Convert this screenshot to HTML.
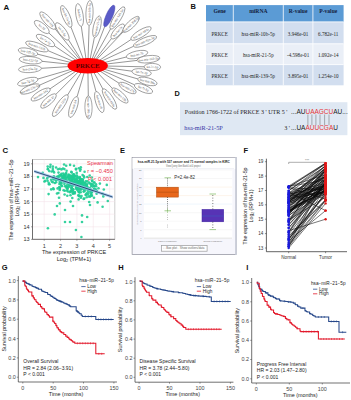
<!DOCTYPE html>
<html><head><meta charset="utf-8"><style>
html,body{margin:0;padding:0;background:#fff;width:351px;height:400px;overflow:hidden}
svg{display:block}
</style></head><body>
<svg width="351" height="400" viewBox="0 0 351 400">
<rect width="351" height="400" fill="#fff"/>
<g>
<line x1="88.0" y1="61.7" x2="89.1" y2="25.5" stroke="#505050" stroke-width="0.6"/>
<line x1="86.4" y1="61.8" x2="81.3" y2="26.4" stroke="#505050" stroke-width="0.6"/>
<line x1="84.5" y1="62.0" x2="71.0" y2="27.2" stroke="#505050" stroke-width="0.6"/>
<line x1="89.6" y1="61.8" x2="94.4" y2="37.4" stroke="#505050" stroke-width="0.6"/>
<line x1="90.9" y1="62.0" x2="104.6" y2="26.8" stroke="#505050" stroke-width="0.6"/>
<line x1="91.9" y1="62.3" x2="110.5" y2="29.0" stroke="#505050" stroke-width="0.6"/>
<line x1="93.0" y1="62.7" x2="111.4" y2="38.6" stroke="#505050" stroke-width="0.6"/>
<line x1="93.5" y1="62.9" x2="123.0" y2="32.0" stroke="#505050" stroke-width="0.6"/>
<line x1="94.5" y1="63.6" x2="130.9" y2="39.6" stroke="#505050" stroke-width="0.6"/>
<line x1="95.1" y1="64.1" x2="133.5" y2="46.3" stroke="#505050" stroke-width="0.6"/>
<line x1="95.5" y1="64.8" x2="126.3" y2="57.0" stroke="#505050" stroke-width="0.6"/>
<line x1="95.7" y1="65.3" x2="137.1" y2="60.4" stroke="#505050" stroke-width="0.6"/>
<line x1="95.7" y1="65.8" x2="144.2" y2="66.8" stroke="#505050" stroke-width="0.6"/>
<line x1="95.6" y1="66.2" x2="131.9" y2="71.2" stroke="#505050" stroke-width="0.6"/>
<line x1="95.4" y1="66.7" x2="137.7" y2="78.9" stroke="#505050" stroke-width="0.6"/>
<line x1="95.1" y1="67.2" x2="134.5" y2="84.8" stroke="#505050" stroke-width="0.6"/>
<line x1="94.7" y1="67.7" x2="119.0" y2="83.2" stroke="#505050" stroke-width="0.6"/>
<line x1="93.6" y1="68.4" x2="112.3" y2="88.4" stroke="#505050" stroke-width="0.6"/>
<line x1="92.1" y1="69.0" x2="102.9" y2="89.0" stroke="#505050" stroke-width="0.6"/>
<line x1="90.1" y1="69.5" x2="96.0" y2="91.5" stroke="#505050" stroke-width="0.6"/>
<line x1="87.9" y1="69.7" x2="88.3" y2="95.9" stroke="#505050" stroke-width="0.6"/>
<line x1="85.1" y1="69.5" x2="77.1" y2="96.6" stroke="#505050" stroke-width="0.6"/>
<line x1="83.2" y1="69.0" x2="67.7" y2="94.9" stroke="#505050" stroke-width="0.6"/>
<line x1="81.8" y1="68.4" x2="55.9" y2="94.3" stroke="#505050" stroke-width="0.6"/>
<line x1="80.9" y1="67.8" x2="50.1" y2="88.8" stroke="#505050" stroke-width="0.6"/>
<line x1="80.3" y1="67.2" x2="39.7" y2="85.1" stroke="#505050" stroke-width="0.6"/>
<line x1="80.0" y1="66.7" x2="37.9" y2="79.0" stroke="#505050" stroke-width="0.6"/>
<line x1="79.7" y1="65.9" x2="41.5" y2="68.3" stroke="#505050" stroke-width="0.6"/>
<line x1="79.7" y1="65.3" x2="42.0" y2="61.3" stroke="#505050" stroke-width="0.6"/>
<line x1="79.9" y1="64.8" x2="37.7" y2="54.2" stroke="#505050" stroke-width="0.6"/>
<line x1="80.2" y1="64.3" x2="48.1" y2="50.7" stroke="#505050" stroke-width="0.6"/>
<line x1="80.8" y1="63.6" x2="54.5" y2="45.9" stroke="#505050" stroke-width="0.6"/>
<line x1="81.6" y1="63.1" x2="48.9" y2="33.0" stroke="#505050" stroke-width="0.6"/>
<line x1="82.4" y1="62.7" x2="55.2" y2="29.0" stroke="#505050" stroke-width="0.6"/>
<line x1="82.9" y1="62.5" x2="68.5" y2="39.8" stroke="#505050" stroke-width="0.6"/>
<ellipse cx="89.5" cy="13" rx="12.5" ry="3.6" transform="rotate(-88.0 89.5 13)" fill="#fff" stroke="#606060" stroke-width="0.55"/>
<text x="89.5" y="14.1" transform="rotate(-88.0 89.5 13)" text-anchor="middle" style="font-family:'Liberation Serif',serif;font-size:3.3px" fill="#4a4a4a">hsa-mir-10b-5p</text>
<ellipse cx="79.5" cy="15" rx="11.5" ry="3.6" transform="rotate(-99.2 79.5 15)" fill="#fff" stroke="#606060" stroke-width="0.55"/>
<text x="79.5" y="16.1" transform="rotate(80.8 79.5 15)" text-anchor="middle" style="font-family:'Liberation Serif',serif;font-size:3.3px" fill="#4a4a4a">hsa-let-7i</text>
<ellipse cx="66.3" cy="16.4" rx="11.75" ry="3.6" transform="rotate(-113.5 66.3 16.4)" fill="#fff" stroke="#606060" stroke-width="0.55"/>
<text x="66.3" y="17.5" transform="rotate(66.5 66.3 16.4)" text-anchor="middle" style="font-family:'Liberation Serif',serif;font-size:3.3px" fill="#4a4a4a">hsa-let-7a-5p</text>
<ellipse cx="97" cy="26.7" rx="11.0" ry="3.6" transform="rotate(-76.6 97 26.7)" fill="#fff" stroke="#606060" stroke-width="0.55"/>
<text x="97" y="27.8" transform="rotate(-76.6 97 26.7)" text-anchor="middle" style="font-family:'Liberation Serif',serif;font-size:3.3px" fill="#4a4a4a">hsa-mir-21-5p</text>
<ellipse cx="109.3" cy="16" rx="11.75" ry="3.3" transform="rotate(-66.5 109.3 16)" fill="#5a5bc8" stroke="#4446b0" stroke-width="0.5"/>
<ellipse cx="117.4" cy="18" rx="13.0" ry="3.6" transform="rotate(-58.1 117.4 18)" fill="#fff" stroke="#606060" stroke-width="0.55"/>
<text x="117.4" y="19.1" transform="rotate(-58.1 117.4 18)" text-anchor="middle" style="font-family:'Liberation Serif',serif;font-size:3.3px" fill="#4a4a4a">hsa-mir-145-5p</text>
<ellipse cx="117.7" cy="31.5" rx="9.5" ry="3.6" transform="rotate(-48.7 117.7 31.5)" fill="#fff" stroke="#606060" stroke-width="0.55"/>
<text x="117.7" y="32.6" transform="rotate(-48.7 117.7 31.5)" text-anchor="middle" style="font-family:'Liberation Serif',serif;font-size:3.3px" fill="#4a4a4a">hsa-let-7e</text>
<ellipse cx="131" cy="24.4" rx="11.0" ry="3.6" transform="rotate(-43.6 131 24.4)" fill="#fff" stroke="#606060" stroke-width="0.55"/>
<text x="131" y="25.5" transform="rotate(-43.6 131 24.4)" text-anchor="middle" style="font-family:'Liberation Serif',serif;font-size:3.3px" fill="#4a4a4a">hsa-mir-30d-5p</text>
<ellipse cx="141" cy="33.5" rx="11.75" ry="3.6" transform="rotate(-31.1 141 33.5)" fill="#fff" stroke="#606060" stroke-width="0.55"/>
<text x="141" y="34.6" transform="rotate(-31.1 141 33.5)" text-anchor="middle" style="font-family:'Liberation Serif',serif;font-size:3.3px" fill="#4a4a4a">hsa-mir-181a</text>
<ellipse cx="145" cy="41.4" rx="12.5" ry="3.6" transform="rotate(-23.0 145 41.4)" fill="#fff" stroke="#606060" stroke-width="0.55"/>
<text x="145" y="42.5" transform="rotate(-23.0 145 41.4)" text-anchor="middle" style="font-family:'Liberation Serif',serif;font-size:3.3px" fill="#4a4a4a">hsa-mir-92a-3p</text>
<ellipse cx="137" cy="54.6" rx="11.0" ry="3.6" transform="rotate(-12.7 137 54.6)" fill="#fff" stroke="#606060" stroke-width="0.55"/>
<text x="137" y="55.7" transform="rotate(-12.7 137 54.6)" text-anchor="middle" style="font-family:'Liberation Serif',serif;font-size:3.3px" fill="#4a4a4a">hsa-let-7b</text>
<ellipse cx="148.5" cy="59.2" rx="11.5" ry="3.6" transform="rotate(-6.1 148.5 59.2)" fill="#fff" stroke="#606060" stroke-width="0.55"/>
<text x="148.5" y="60.300000000000004" transform="rotate(-6.1 148.5 59.2)" text-anchor="middle" style="font-family:'Liberation Serif',serif;font-size:3.3px" fill="#4a4a4a">hsa-mir-143-3p</text>
<ellipse cx="152.4" cy="67" rx="8.25" ry="3.6" transform="rotate(1.2 152.4 67)" fill="#fff" stroke="#606060" stroke-width="0.55"/>
<text x="152.4" y="68.1" transform="rotate(1.2 152.4 67)" text-anchor="middle" style="font-family:'Liberation Serif',serif;font-size:3.3px" fill="#4a4a4a">let-7c-5p</text>
<ellipse cx="141.6" cy="72.4" rx="9.75" ry="3.6" transform="rotate(7.1 141.6 72.4)" fill="#fff" stroke="#606060" stroke-width="0.55"/>
<text x="141.6" y="73.5" transform="rotate(7.1 141.6 72.4)" text-anchor="middle" style="font-family:'Liberation Serif',serif;font-size:3.3px" fill="#4a4a4a">let-7a-3p</text>
<ellipse cx="147.4" cy="81.4" rx="10.0" ry="3.6" transform="rotate(14.7 147.4 81.4)" fill="#fff" stroke="#606060" stroke-width="0.55"/>
<text x="147.4" y="82.5" transform="rotate(14.7 147.4 81.4)" text-anchor="middle" style="font-family:'Liberation Serif',serif;font-size:3.3px" fill="#4a4a4a">hsa-mir-99a</text>
<ellipse cx="143.5" cy="88.5" rx="9.75" ry="3.6" transform="rotate(22.2 143.5 88.5)" fill="#fff" stroke="#606060" stroke-width="0.55"/>
<text x="143.5" y="89.6" transform="rotate(22.2 143.5 88.5)" text-anchor="middle" style="font-family:'Liberation Serif',serif;font-size:3.3px" fill="#4a4a4a">let-7f-5p</text>
<ellipse cx="127.5" cy="88" rx="9.75" ry="3.6" transform="rotate(29.3 127.5 88)" fill="#fff" stroke="#606060" stroke-width="0.55"/>
<text x="127.5" y="89.1" transform="rotate(29.3 127.5 88)" text-anchor="middle" style="font-family:'Liberation Serif',serif;font-size:3.3px" fill="#4a4a4a">hsa-mir-27b</text>
<ellipse cx="120" cy="95.5" rx="10.5" ry="3.6" transform="rotate(42.7 120 95.5)" fill="#fff" stroke="#606060" stroke-width="0.55"/>
<text x="120" y="96.6" transform="rotate(42.7 120 95.5)" text-anchor="middle" style="font-family:'Liberation Serif',serif;font-size:3.3px" fill="#4a4a4a">hsa-mir-15b</text>
<ellipse cx="109.5" cy="99" rx="12.0" ry="3.6" transform="rotate(56.8 109.5 99)" fill="#fff" stroke="#606060" stroke-width="0.55"/>
<text x="109.5" y="100.1" transform="rotate(56.8 109.5 99)" text-anchor="middle" style="font-family:'Liberation Serif',serif;font-size:3.3px" fill="#4a4a4a">hsa-mir-103a</text>
<ellipse cx="99.3" cy="102" rx="11.0" ry="3.6" transform="rotate(72.3 99.3 102)" fill="#fff" stroke="#606060" stroke-width="0.55"/>
<text x="99.3" y="103.1" transform="rotate(72.3 99.3 102)" text-anchor="middle" style="font-family:'Liberation Serif',serif;font-size:3.3px" fill="#4a4a4a">hsa-mir-16</text>
<ellipse cx="88.5" cy="107.4" rx="11.5" ry="3.6" transform="rotate(88.9 88.5 107.4)" fill="#fff" stroke="#606060" stroke-width="0.55"/>
<text x="88.5" y="108.5" transform="rotate(88.9 88.5 107.4)" text-anchor="middle" style="font-family:'Liberation Serif',serif;font-size:3.3px" fill="#4a4a4a">hsa-mir-101-3p</text>
<ellipse cx="73.5" cy="107" rx="11.0" ry="3.6" transform="rotate(109.0 73.5 107)" fill="#fff" stroke="#606060" stroke-width="0.55"/>
<text x="73.5" y="108.1" transform="rotate(-71.0 73.5 107)" text-anchor="middle" style="font-family:'Liberation Serif',serif;font-size:3.3px" fill="#4a4a4a">hsa-mir-24</text>
<ellipse cx="60.3" cy="105.6" rx="13.0" ry="3.6" transform="rotate(124.5 60.3 105.6)" fill="#fff" stroke="#606060" stroke-width="0.55"/>
<text x="60.3" y="106.69999999999999" transform="rotate(-55.5 60.3 105.6)" text-anchor="middle" style="font-family:'Liberation Serif',serif;font-size:3.3px" fill="#4a4a4a">hsa-mir-125a</text>
<ellipse cx="48.5" cy="101" rx="10.0" ry="3.6" transform="rotate(138.0 48.5 101)" fill="#fff" stroke="#606060" stroke-width="0.55"/>
<text x="48.5" y="102.1" transform="rotate(-42.0 48.5 101)" text-anchor="middle" style="font-family:'Liberation Serif',serif;font-size:3.3px" fill="#4a4a4a">hsa-mir-21</text>
<ellipse cx="40.7" cy="94.5" rx="11.0" ry="3.6" transform="rotate(148.5 40.7 94.5)" fill="#fff" stroke="#606060" stroke-width="0.55"/>
<text x="40.7" y="95.6" transform="rotate(-31.5 40.7 94.5)" text-anchor="middle" style="font-family:'Liberation Serif',serif;font-size:3.3px" fill="#4a4a4a">hsa-mir-142</text>
<ellipse cx="30" cy="89" rx="10.5" ry="3.6" transform="rotate(158.0 30 89)" fill="#fff" stroke="#606060" stroke-width="0.55"/>
<text x="30" y="90.1" transform="rotate(-22.0 30 89)" text-anchor="middle" style="font-family:'Liberation Serif',serif;font-size:3.3px" fill="#4a4a4a">hsa-mir-23a-5p</text>
<ellipse cx="27.8" cy="81.7" rx="10.5" ry="3.6" transform="rotate(165.0 27.8 81.7)" fill="#fff" stroke="#606060" stroke-width="0.55"/>
<text x="27.8" y="82.8" transform="rotate(-15.0 27.8 81.7)" text-anchor="middle" style="font-family:'Liberation Serif',serif;font-size:3.3px" fill="#4a4a4a">hsa-7g-5p</text>
<ellipse cx="30" cy="69" rx="11.5" ry="3.6" transform="rotate(176.7 30 69)" fill="#fff" stroke="#606060" stroke-width="0.55"/>
<text x="30" y="70.1" transform="rotate(-3.3 30 69)" text-anchor="middle" style="font-family:'Liberation Serif',serif;font-size:3.3px" fill="#4a4a4a">hsa-23a-5p</text>
<ellipse cx="30.6" cy="60.2" rx="11.5" ry="3.6" transform="rotate(-174.5 30.6 60.2)" fill="#fff" stroke="#606060" stroke-width="0.55"/>
<text x="30.6" y="61.300000000000004" transform="rotate(5.5 30.6 60.2)" text-anchor="middle" style="font-family:'Liberation Serif',serif;font-size:3.3px" fill="#4a4a4a">hsa-222-5p</text>
<ellipse cx="28" cy="52" rx="10.0" ry="3.6" transform="rotate(-167.1 28 52)" fill="#fff" stroke="#606060" stroke-width="0.55"/>
<text x="28" y="53.1" transform="rotate(12.9 28 52)" text-anchor="middle" style="font-family:'Liberation Serif',serif;font-size:3.3px" fill="#4a4a4a">hsa-139-5p</text>
<ellipse cx="36.9" cy="46.5" rx="12.0" ry="3.6" transform="rotate(-159.3 36.9 46.5)" fill="#fff" stroke="#606060" stroke-width="0.55"/>
<text x="36.9" y="47.6" transform="rotate(20.7 36.9 46.5)" text-anchor="middle" style="font-family:'Liberation Serif',serif;font-size:3.3px" fill="#4a4a4a">hsa-mir-181b</text>
<ellipse cx="45.5" cy="40.5" rx="10.5" ry="3.6" transform="rotate(-149.2 45.5 40.5)" fill="#fff" stroke="#606060" stroke-width="0.55"/>
<text x="45.5" y="41.6" transform="rotate(30.8 45.5 40.5)" text-anchor="middle" style="font-family:'Liberation Serif',serif;font-size:3.3px" fill="#4a4a4a">let-7a-3p</text>
<ellipse cx="41.8" cy="27" rx="9.25" ry="3.6" transform="rotate(-139.9 41.8 27)" fill="#fff" stroke="#606060" stroke-width="0.55"/>
<text x="41.8" y="28.1" transform="rotate(40.1 41.8 27)" text-anchor="middle" style="font-family:'Liberation Serif',serif;font-size:3.3px" fill="#4a4a4a">let-7d</text>
<ellipse cx="47.7" cy="20.6" rx="11.25" ry="3.6" transform="rotate(-131.6 47.7 20.6)" fill="#fff" stroke="#606060" stroke-width="0.55"/>
<text x="47.7" y="21.700000000000003" transform="rotate(48.4 47.7 20.6)" text-anchor="middle" style="font-family:'Liberation Serif',serif;font-size:3.3px" fill="#4a4a4a">hsa-mir-126</text>
<ellipse cx="62.3" cy="31.4" rx="10.5" ry="3.6" transform="rotate(-126.5 62.3 31.4)" fill="#fff" stroke="#606060" stroke-width="0.55"/>
<text x="62.3" y="32.5" transform="rotate(53.5 62.3 31.4)" text-anchor="middle" style="font-family:'Liberation Serif',serif;font-size:3.3px" fill="#4a4a4a">let-7i-5p</text>
<ellipse cx="87.7" cy="65.7" rx="20.2" ry="7.8" fill="#f00" />
<text x="87.7" y="67.9" text-anchor="middle" style="font-family:'Liberation Serif',serif;font-size:6.8px;font-weight:bold" fill="#5a0000">PRKCE</text>
</g>
<text x="3.4" y="10" style="font-family:'Liberation Sans',sans-serif;font-weight:bold;font-size:8px" fill="#111">A</text>
<text x="190.5" y="9.3" style="font-family:'Liberation Sans',sans-serif;font-weight:bold;font-size:7.5px" fill="#111">B</text>
<rect x="206" y="5.1" width="137.60000000000002" height="16.799999999999997" fill="#5b9bd5"/>
<rect x="206" y="21.9" width="137.60000000000002" height="21.9" fill="#d2deef"/>
<rect x="206" y="43.8" width="137.60000000000002" height="20.799999999999997" fill="#eaeff7"/>
<rect x="206" y="64.6" width="137.60000000000002" height="20.700000000000003" fill="#d2deef"/>
<line x1="233.3" y1="5.1" x2="233.3" y2="85.3" stroke="#fff" stroke-width="0.8"/>
<line x1="283.3" y1="5.1" x2="283.3" y2="85.3" stroke="#fff" stroke-width="0.8"/>
<line x1="312.9" y1="5.1" x2="312.9" y2="85.3" stroke="#fff" stroke-width="0.8"/>
<line x1="206" y1="21.9" x2="343.6" y2="21.9" stroke="#fff" stroke-width="0.8"/>
<line x1="206" y1="43.8" x2="343.6" y2="43.8" stroke="#fff" stroke-width="0.8"/>
<line x1="206" y1="64.6" x2="343.6" y2="64.6" stroke="#fff" stroke-width="0.8"/>
<text x="219.65" y="12.9" text-anchor="middle" style="font-family:'Liberation Serif',serif;font-weight:bold;font-size:5.6px" fill="#14213d">Gene</text>
<text x="258.3" y="12.9" text-anchor="middle" style="font-family:'Liberation Serif',serif;font-weight:bold;font-size:5.6px" fill="#14213d">miRNA</text>
<text x="298.1" y="12.9" text-anchor="middle" style="font-family:'Liberation Serif',serif;font-weight:bold;font-size:5.6px" fill="#14213d">R-value</text>
<text x="328.25" y="12.9" text-anchor="middle" style="font-family:'Liberation Serif',serif;font-weight:bold;font-size:5.6px" fill="#14213d">P-value</text>
<text x="219.65" y="36.1" text-anchor="middle" style="font-family:'Liberation Serif',serif;font-size:5.1px" fill="#1e1e1e">PRKCE</text>
<text x="258.3" y="36.1" text-anchor="middle" style="font-family:'Liberation Serif',serif;font-size:5.1px" fill="#1e1e1e">hsa-miR-10b-5p</text>
<text x="298.1" y="36.1" text-anchor="middle" style="font-family:'Liberation Serif',serif;font-size:5.1px" fill="#1e1e1e">3.946e-01</text>
<text x="328.25" y="36.1" text-anchor="middle" style="font-family:'Liberation Serif',serif;font-size:5.1px" fill="#1e1e1e">6.782e-11</text>
<text x="219.65" y="56.8" text-anchor="middle" style="font-family:'Liberation Serif',serif;font-size:5.1px" fill="#1e1e1e">PRKCE</text>
<text x="258.3" y="56.8" text-anchor="middle" style="font-family:'Liberation Serif',serif;font-size:5.1px" fill="#1e1e1e">hsa-miR-21-5p</text>
<text x="298.1" y="56.8" text-anchor="middle" style="font-family:'Liberation Serif',serif;font-size:5.1px" fill="#1e1e1e">-4.598e-01</text>
<text x="328.25" y="56.8" text-anchor="middle" style="font-family:'Liberation Serif',serif;font-size:5.1px" fill="#1e1e1e">1.092e-14</text>
<text x="219.65" y="77.5" text-anchor="middle" style="font-family:'Liberation Serif',serif;font-size:5.1px" fill="#1e1e1e">PRKCE</text>
<text x="258.3" y="77.5" text-anchor="middle" style="font-family:'Liberation Serif',serif;font-size:5.1px" fill="#1e1e1e">hsa-miR-139-5p</text>
<text x="298.1" y="77.5" text-anchor="middle" style="font-family:'Liberation Serif',serif;font-size:5.1px" fill="#1e1e1e">3.895e-01</text>
<text x="328.25" y="77.5" text-anchor="middle" style="font-family:'Liberation Serif',serif;font-size:5.1px" fill="#1e1e1e">1.254e-10</text>
<text x="174.5" y="96.3" style="font-family:'Liberation Sans',sans-serif;font-weight:bold;font-size:7.3px" fill="#111">D</text>
<rect x="180" y="102.2" width="167.4" height="33" fill="#dfe8f3"/>
<text x="184.8" y="113.5" textLength="102.5" lengthAdjust="spacingAndGlyphs" style="font-family:'Liberation Serif',serif;font-size:6.3px" fill="#1a1a1a">Position 1766-1722 of PRKCE 3 ' UTR 5 '</text>
<text x="291" y="113.5" style="font-family:'Liberation Sans',sans-serif;font-size:6.5px" fill="#1a1a1a">...AU<tspan fill="#e53535">UAAGCU</tspan>AU...</text>
<text x="184.3" y="130.2" style="font-family:'Liberation Serif',serif;font-size:6.3px" fill="#3535a5">hsa-miR-21-5P</text>
<text x="284.2" y="130" style="font-family:'Liberation Serif',serif;font-size:6.2px" fill="#222">3 '</text>
<text x="291" y="130.2" style="font-family:'Liberation Sans',sans-serif;font-size:6.5px" fill="#1a1a1a">...UA<tspan fill="#e53535">AUUCGA</tspan>U</text>
<line x1="307.9" y1="114.5" x2="307.9" y2="125.3" stroke="#555" stroke-width="0.45"/>
<line x1="311.9" y1="114.5" x2="311.9" y2="125.3" stroke="#555" stroke-width="0.45"/>
<line x1="315.9" y1="114.5" x2="315.9" y2="125.3" stroke="#555" stroke-width="0.45"/>
<line x1="320" y1="114.5" x2="320" y2="125.3" stroke="#555" stroke-width="0.45"/>
<line x1="324.6" y1="114.5" x2="324.6" y2="125.3" stroke="#555" stroke-width="0.45"/>
<line x1="329" y1="114.5" x2="329" y2="125.3" stroke="#555" stroke-width="0.45"/>
<text x="2.6" y="153.2" style="font-family:'Liberation Sans',sans-serif;font-weight:bold;font-size:7.8px" fill="#111">C</text>
<rect x="32.5" y="159.6" width="82.4" height="79.70000000000002" fill="#fff" stroke="#9a9a9a" stroke-width="0.5"/>
<line x1="32.5" y1="239.4" x2="114.9" y2="239.4" stroke="#f3dfe6" stroke-width="0.5"/>
<line x1="32.5" y1="226.8" x2="114.9" y2="226.8" stroke="#f3dfe6" stroke-width="0.5"/>
<line x1="32.5" y1="214.20000000000002" x2="114.9" y2="214.20000000000002" stroke="#f3dfe6" stroke-width="0.5"/>
<line x1="32.5" y1="201.60000000000002" x2="114.9" y2="201.60000000000002" stroke="#f3dfe6" stroke-width="0.5"/>
<line x1="32.5" y1="189.0" x2="114.9" y2="189.0" stroke="#f3dfe6" stroke-width="0.5"/>
<line x1="32.5" y1="176.4" x2="114.9" y2="176.4" stroke="#f3dfe6" stroke-width="0.5"/>
<line x1="32.5" y1="163.8" x2="114.9" y2="163.8" stroke="#f3dfe6" stroke-width="0.5"/>
<line x1="44.2" y1="159.6" x2="44.2" y2="239.3" stroke="#f3dfe6" stroke-width="0.5"/>
<line x1="60.550000000000004" y1="159.6" x2="60.550000000000004" y2="239.3" stroke="#f3dfe6" stroke-width="0.5"/>
<line x1="76.9" y1="159.6" x2="76.9" y2="239.3" stroke="#f3dfe6" stroke-width="0.5"/>
<line x1="93.25" y1="159.6" x2="93.25" y2="239.3" stroke="#f3dfe6" stroke-width="0.5"/>
<line x1="109.60000000000001" y1="159.6" x2="109.60000000000001" y2="239.3" stroke="#f3dfe6" stroke-width="0.5"/>
<circle cx="69.5" cy="178.9" r="1.3" fill="#1fcc94" fill-opacity="0.9"/>
<circle cx="69.9" cy="184.7" r="1.3" fill="#1fcc94" fill-opacity="0.9"/>
<circle cx="61.0" cy="181.5" r="1.3" fill="#1fcc94" fill-opacity="0.9"/>
<circle cx="87.0" cy="184.3" r="1.3" fill="#1fcc94" fill-opacity="0.9"/>
<circle cx="86.0" cy="185.3" r="1.3" fill="#1fcc94" fill-opacity="0.9"/>
<circle cx="77.8" cy="183.4" r="1.3" fill="#1fcc94" fill-opacity="0.9"/>
<circle cx="51.6" cy="171.5" r="1.3" fill="#1fcc94" fill-opacity="0.9"/>
<circle cx="79.3" cy="181.7" r="1.3" fill="#1fcc94" fill-opacity="0.9"/>
<circle cx="51.2" cy="189.4" r="1.3" fill="#1fcc94" fill-opacity="0.9"/>
<circle cx="61.5" cy="183.4" r="1.3" fill="#1fcc94" fill-opacity="0.9"/>
<circle cx="76.7" cy="184.7" r="1.3" fill="#1fcc94" fill-opacity="0.9"/>
<circle cx="79.5" cy="189.6" r="1.3" fill="#1fcc94" fill-opacity="0.9"/>
<circle cx="76.7" cy="181.7" r="1.3" fill="#1fcc94" fill-opacity="0.9"/>
<circle cx="64.4" cy="169.1" r="1.3" fill="#1fcc94" fill-opacity="0.9"/>
<circle cx="79.9" cy="177.0" r="1.3" fill="#1fcc94" fill-opacity="0.9"/>
<circle cx="64.9" cy="186.3" r="1.3" fill="#1fcc94" fill-opacity="0.9"/>
<circle cx="68.4" cy="182.9" r="1.3" fill="#1fcc94" fill-opacity="0.9"/>
<circle cx="80.9" cy="183.8" r="1.3" fill="#1fcc94" fill-opacity="0.9"/>
<circle cx="67.1" cy="188.4" r="1.3" fill="#1fcc94" fill-opacity="0.9"/>
<circle cx="66.2" cy="173.0" r="1.3" fill="#1fcc94" fill-opacity="0.9"/>
<circle cx="62.5" cy="178.8" r="1.3" fill="#1fcc94" fill-opacity="0.9"/>
<circle cx="78.3" cy="195.2" r="1.3" fill="#1fcc94" fill-opacity="0.9"/>
<circle cx="73.4" cy="174.4" r="1.3" fill="#1fcc94" fill-opacity="0.9"/>
<circle cx="47.1" cy="178.4" r="1.3" fill="#1fcc94" fill-opacity="0.9"/>
<circle cx="71.5" cy="188.6" r="1.3" fill="#1fcc94" fill-opacity="0.9"/>
<circle cx="79.2" cy="185.5" r="1.3" fill="#1fcc94" fill-opacity="0.9"/>
<circle cx="54.1" cy="172.4" r="1.3" fill="#1fcc94" fill-opacity="0.9"/>
<circle cx="81.3" cy="179.1" r="1.3" fill="#1fcc94" fill-opacity="0.9"/>
<circle cx="91.2" cy="185.9" r="1.3" fill="#1fcc94" fill-opacity="0.9"/>
<circle cx="74.3" cy="192.8" r="1.3" fill="#1fcc94" fill-opacity="0.9"/>
<circle cx="80.7" cy="189.7" r="1.3" fill="#1fcc94" fill-opacity="0.9"/>
<circle cx="67.0" cy="190.5" r="1.3" fill="#1fcc94" fill-opacity="0.9"/>
<circle cx="60.5" cy="183.6" r="1.3" fill="#1fcc94" fill-opacity="0.9"/>
<circle cx="89.2" cy="202.0" r="1.3" fill="#1fcc94" fill-opacity="0.9"/>
<circle cx="54.2" cy="176.5" r="1.3" fill="#1fcc94" fill-opacity="0.9"/>
<circle cx="91.2" cy="184.4" r="1.3" fill="#1fcc94" fill-opacity="0.9"/>
<circle cx="48.6" cy="194.1" r="1.3" fill="#1fcc94" fill-opacity="0.9"/>
<circle cx="77.4" cy="189.7" r="1.3" fill="#1fcc94" fill-opacity="0.9"/>
<circle cx="58.5" cy="172.6" r="1.3" fill="#1fcc94" fill-opacity="0.9"/>
<circle cx="86.9" cy="186.1" r="1.3" fill="#1fcc94" fill-opacity="0.9"/>
<circle cx="75.9" cy="181.2" r="1.3" fill="#1fcc94" fill-opacity="0.9"/>
<circle cx="93.1" cy="184.7" r="1.3" fill="#1fcc94" fill-opacity="0.9"/>
<circle cx="79.4" cy="181.4" r="1.3" fill="#1fcc94" fill-opacity="0.9"/>
<circle cx="52.8" cy="168.9" r="1.3" fill="#1fcc94" fill-opacity="0.9"/>
<circle cx="85.0" cy="183.0" r="1.3" fill="#1fcc94" fill-opacity="0.9"/>
<circle cx="47.6" cy="180.7" r="1.3" fill="#1fcc94" fill-opacity="0.9"/>
<circle cx="83.6" cy="198.9" r="1.3" fill="#1fcc94" fill-opacity="0.9"/>
<circle cx="70.5" cy="175.6" r="1.3" fill="#1fcc94" fill-opacity="0.9"/>
<circle cx="56.1" cy="167.5" r="1.3" fill="#1fcc94" fill-opacity="0.9"/>
<circle cx="79.9" cy="186.3" r="1.3" fill="#1fcc94" fill-opacity="0.9"/>
<circle cx="77.0" cy="180.0" r="1.3" fill="#1fcc94" fill-opacity="0.9"/>
<circle cx="74.3" cy="175.8" r="1.3" fill="#1fcc94" fill-opacity="0.9"/>
<circle cx="64.4" cy="183.9" r="1.3" fill="#1fcc94" fill-opacity="0.9"/>
<circle cx="86.1" cy="186.8" r="1.3" fill="#1fcc94" fill-opacity="0.9"/>
<circle cx="61.6" cy="173.7" r="1.3" fill="#1fcc94" fill-opacity="0.9"/>
<circle cx="91.5" cy="191.6" r="1.3" fill="#1fcc94" fill-opacity="0.9"/>
<circle cx="55.2" cy="179.4" r="1.3" fill="#1fcc94" fill-opacity="0.9"/>
<circle cx="70.9" cy="184.9" r="1.3" fill="#1fcc94" fill-opacity="0.9"/>
<circle cx="90.7" cy="195.4" r="1.3" fill="#1fcc94" fill-opacity="0.9"/>
<circle cx="88.9" cy="196.6" r="1.3" fill="#1fcc94" fill-opacity="0.9"/>
<circle cx="62.8" cy="176.2" r="1.3" fill="#1fcc94" fill-opacity="0.9"/>
<circle cx="87.2" cy="181.4" r="1.3" fill="#1fcc94" fill-opacity="0.9"/>
<circle cx="77.2" cy="183.6" r="1.3" fill="#1fcc94" fill-opacity="0.9"/>
<circle cx="74.8" cy="179.9" r="1.3" fill="#1fcc94" fill-opacity="0.9"/>
<circle cx="70.6" cy="180.8" r="1.3" fill="#1fcc94" fill-opacity="0.9"/>
<circle cx="80.1" cy="185.4" r="1.3" fill="#1fcc94" fill-opacity="0.9"/>
<circle cx="82.6" cy="182.1" r="1.3" fill="#1fcc94" fill-opacity="0.9"/>
<circle cx="98.5" cy="188.2" r="1.3" fill="#1fcc94" fill-opacity="0.9"/>
<circle cx="67.4" cy="184.4" r="1.3" fill="#1fcc94" fill-opacity="0.9"/>
<circle cx="72.6" cy="176.9" r="1.3" fill="#1fcc94" fill-opacity="0.9"/>
<circle cx="68.5" cy="179.5" r="1.3" fill="#1fcc94" fill-opacity="0.9"/>
<circle cx="58.5" cy="177.7" r="1.3" fill="#1fcc94" fill-opacity="0.9"/>
<circle cx="77.9" cy="183.1" r="1.3" fill="#1fcc94" fill-opacity="0.9"/>
<circle cx="67.3" cy="177.3" r="1.3" fill="#1fcc94" fill-opacity="0.9"/>
<circle cx="76.4" cy="187.9" r="1.3" fill="#1fcc94" fill-opacity="0.9"/>
<circle cx="103.8" cy="189.5" r="1.3" fill="#1fcc94" fill-opacity="0.9"/>
<circle cx="65.7" cy="182.1" r="1.3" fill="#1fcc94" fill-opacity="0.9"/>
<circle cx="69.9" cy="183.0" r="1.3" fill="#1fcc94" fill-opacity="0.9"/>
<circle cx="38.0" cy="177.1" r="1.3" fill="#1fcc94" fill-opacity="0.9"/>
<circle cx="85.7" cy="195.0" r="1.3" fill="#1fcc94" fill-opacity="0.9"/>
<circle cx="72.0" cy="176.5" r="1.3" fill="#1fcc94" fill-opacity="0.9"/>
<circle cx="83.7" cy="176.0" r="1.3" fill="#1fcc94" fill-opacity="0.9"/>
<circle cx="51.1" cy="179.8" r="1.3" fill="#1fcc94" fill-opacity="0.9"/>
<circle cx="68.5" cy="177.8" r="1.3" fill="#1fcc94" fill-opacity="0.9"/>
<circle cx="86.7" cy="197.2" r="1.3" fill="#1fcc94" fill-opacity="0.9"/>
<circle cx="81.5" cy="196.1" r="1.3" fill="#1fcc94" fill-opacity="0.9"/>
<circle cx="75.1" cy="175.7" r="1.3" fill="#1fcc94" fill-opacity="0.9"/>
<circle cx="70.9" cy="181.5" r="1.3" fill="#1fcc94" fill-opacity="0.9"/>
<circle cx="83.0" cy="185.2" r="1.3" fill="#1fcc94" fill-opacity="0.9"/>
<circle cx="71.7" cy="172.4" r="1.3" fill="#1fcc94" fill-opacity="0.9"/>
<circle cx="86.2" cy="189.1" r="1.3" fill="#1fcc94" fill-opacity="0.9"/>
<circle cx="107.8" cy="201.0" r="1.3" fill="#1fcc94" fill-opacity="0.9"/>
<circle cx="84.5" cy="188.4" r="1.3" fill="#1fcc94" fill-opacity="0.9"/>
<circle cx="74.5" cy="178.9" r="1.3" fill="#1fcc94" fill-opacity="0.9"/>
<circle cx="75.6" cy="179.7" r="1.3" fill="#1fcc94" fill-opacity="0.9"/>
<circle cx="53.3" cy="188.4" r="1.3" fill="#1fcc94" fill-opacity="0.9"/>
<circle cx="80.7" cy="192.2" r="1.3" fill="#1fcc94" fill-opacity="0.9"/>
<circle cx="59.7" cy="189.9" r="1.3" fill="#1fcc94" fill-opacity="0.9"/>
<circle cx="89.0" cy="182.6" r="1.3" fill="#1fcc94" fill-opacity="0.9"/>
<circle cx="91.6" cy="195.0" r="1.3" fill="#1fcc94" fill-opacity="0.9"/>
<circle cx="72.8" cy="191.2" r="1.3" fill="#1fcc94" fill-opacity="0.9"/>
<circle cx="82.6" cy="175.0" r="1.3" fill="#1fcc94" fill-opacity="0.9"/>
<circle cx="61.5" cy="169.4" r="1.3" fill="#1fcc94" fill-opacity="0.9"/>
<circle cx="85.4" cy="188.1" r="1.3" fill="#1fcc94" fill-opacity="0.9"/>
<circle cx="47.7" cy="166.6" r="1.3" fill="#1fcc94" fill-opacity="0.9"/>
<circle cx="71.6" cy="187.2" r="1.3" fill="#1fcc94" fill-opacity="0.9"/>
<circle cx="77.9" cy="181.9" r="1.3" fill="#1fcc94" fill-opacity="0.9"/>
<circle cx="91.9" cy="195.7" r="1.3" fill="#1fcc94" fill-opacity="0.9"/>
<circle cx="87.3" cy="177.0" r="1.3" fill="#1fcc94" fill-opacity="0.9"/>
<circle cx="91.3" cy="189.7" r="1.3" fill="#1fcc94" fill-opacity="0.9"/>
<circle cx="63.3" cy="173.6" r="1.3" fill="#1fcc94" fill-opacity="0.9"/>
<circle cx="74.3" cy="182.9" r="1.3" fill="#1fcc94" fill-opacity="0.9"/>
<circle cx="91.0" cy="190.2" r="1.3" fill="#1fcc94" fill-opacity="0.9"/>
<circle cx="43.5" cy="177.9" r="1.3" fill="#1fcc94" fill-opacity="0.9"/>
<circle cx="49.2" cy="171.1" r="1.3" fill="#1fcc94" fill-opacity="0.9"/>
<circle cx="76.9" cy="188.7" r="1.3" fill="#1fcc94" fill-opacity="0.9"/>
<circle cx="72.7" cy="177.5" r="1.3" fill="#1fcc94" fill-opacity="0.9"/>
<circle cx="73.8" cy="174.4" r="1.3" fill="#1fcc94" fill-opacity="0.9"/>
<circle cx="72.0" cy="175.9" r="1.3" fill="#1fcc94" fill-opacity="0.9"/>
<circle cx="91.8" cy="177.5" r="1.3" fill="#1fcc94" fill-opacity="0.9"/>
<circle cx="64.2" cy="174.9" r="1.3" fill="#1fcc94" fill-opacity="0.9"/>
<circle cx="48.9" cy="184.2" r="1.3" fill="#1fcc94" fill-opacity="0.9"/>
<circle cx="47.8" cy="169.0" r="1.3" fill="#1fcc94" fill-opacity="0.9"/>
<circle cx="57.1" cy="179.1" r="1.3" fill="#1fcc94" fill-opacity="0.9"/>
<circle cx="70.4" cy="182.8" r="1.3" fill="#1fcc94" fill-opacity="0.9"/>
<circle cx="65.3" cy="179.6" r="1.3" fill="#1fcc94" fill-opacity="0.9"/>
<circle cx="95.7" cy="189.4" r="1.3" fill="#1fcc94" fill-opacity="0.9"/>
<circle cx="79.6" cy="178.3" r="1.3" fill="#1fcc94" fill-opacity="0.9"/>
<circle cx="70.3" cy="191.4" r="1.3" fill="#1fcc94" fill-opacity="0.9"/>
<circle cx="65.7" cy="173.9" r="1.3" fill="#1fcc94" fill-opacity="0.9"/>
<circle cx="51.8" cy="181.6" r="1.3" fill="#1fcc94" fill-opacity="0.9"/>
<circle cx="85.7" cy="181.4" r="1.3" fill="#1fcc94" fill-opacity="0.9"/>
<circle cx="72.9" cy="177.8" r="1.3" fill="#1fcc94" fill-opacity="0.9"/>
<circle cx="74.9" cy="192.1" r="1.3" fill="#1fcc94" fill-opacity="0.9"/>
<circle cx="52.9" cy="182.2" r="1.3" fill="#1fcc94" fill-opacity="0.9"/>
<circle cx="84.6" cy="190.5" r="1.3" fill="#1fcc94" fill-opacity="0.9"/>
<circle cx="61.3" cy="185.5" r="1.3" fill="#1fcc94" fill-opacity="0.9"/>
<circle cx="53.3" cy="178.7" r="1.3" fill="#1fcc94" fill-opacity="0.9"/>
<circle cx="57.8" cy="176.6" r="1.3" fill="#1fcc94" fill-opacity="0.9"/>
<circle cx="42.7" cy="172.7" r="1.3" fill="#1fcc94" fill-opacity="0.9"/>
<circle cx="64.6" cy="194.5" r="1.3" fill="#1fcc94" fill-opacity="0.9"/>
<circle cx="82.1" cy="187.8" r="1.3" fill="#1fcc94" fill-opacity="0.9"/>
<circle cx="44.4" cy="181.5" r="1.3" fill="#1fcc94" fill-opacity="0.9"/>
<circle cx="76.5" cy="187.5" r="1.3" fill="#1fcc94" fill-opacity="0.9"/>
<circle cx="82.8" cy="180.9" r="1.3" fill="#1fcc94" fill-opacity="0.9"/>
<circle cx="81.3" cy="183.4" r="1.3" fill="#1fcc94" fill-opacity="0.9"/>
<circle cx="89.8" cy="183.5" r="1.3" fill="#1fcc94" fill-opacity="0.9"/>
<circle cx="78.6" cy="199.4" r="1.3" fill="#1fcc94" fill-opacity="0.9"/>
<circle cx="84.2" cy="177.4" r="1.3" fill="#1fcc94" fill-opacity="0.9"/>
<circle cx="69.0" cy="185.5" r="1.3" fill="#1fcc94" fill-opacity="0.9"/>
<circle cx="97.6" cy="202.4" r="1.3" fill="#1fcc94" fill-opacity="0.9"/>
<circle cx="78.8" cy="168.2" r="1.3" fill="#1fcc94" fill-opacity="0.9"/>
<circle cx="61.0" cy="175.3" r="1.3" fill="#1fcc94" fill-opacity="0.9"/>
<circle cx="96.9" cy="190.8" r="1.3" fill="#1fcc94" fill-opacity="0.9"/>
<circle cx="80.0" cy="179.1" r="1.3" fill="#1fcc94" fill-opacity="0.9"/>
<circle cx="61.3" cy="180.7" r="1.3" fill="#1fcc94" fill-opacity="0.9"/>
<circle cx="76.5" cy="178.6" r="1.3" fill="#1fcc94" fill-opacity="0.9"/>
<circle cx="72.4" cy="184.6" r="1.3" fill="#1fcc94" fill-opacity="0.9"/>
<circle cx="59.9" cy="182.2" r="1.3" fill="#1fcc94" fill-opacity="0.9"/>
<circle cx="84.2" cy="185.8" r="1.3" fill="#1fcc94" fill-opacity="0.9"/>
<circle cx="61.9" cy="186.1" r="1.3" fill="#1fcc94" fill-opacity="0.9"/>
<circle cx="106.8" cy="184.9" r="1.3" fill="#1fcc94" fill-opacity="0.9"/>
<circle cx="80.7" cy="182.2" r="1.3" fill="#1fcc94" fill-opacity="0.9"/>
<circle cx="94.3" cy="186.3" r="1.3" fill="#1fcc94" fill-opacity="0.9"/>
<circle cx="72.0" cy="179.5" r="1.3" fill="#1fcc94" fill-opacity="0.9"/>
<circle cx="48.0" cy="169.3" r="1.3" fill="#1fcc94" fill-opacity="0.9"/>
<circle cx="77.0" cy="189.3" r="1.3" fill="#1fcc94" fill-opacity="0.9"/>
<circle cx="89.7" cy="175.5" r="1.3" fill="#1fcc94" fill-opacity="0.9"/>
<circle cx="54.9" cy="183.0" r="1.3" fill="#1fcc94" fill-opacity="0.9"/>
<circle cx="76.5" cy="183.1" r="1.3" fill="#1fcc94" fill-opacity="0.9"/>
<circle cx="67.7" cy="188.7" r="1.3" fill="#1fcc94" fill-opacity="0.9"/>
<circle cx="99.9" cy="183.6" r="1.3" fill="#1fcc94" fill-opacity="0.9"/>
<circle cx="57.6" cy="188.4" r="1.3" fill="#1fcc94" fill-opacity="0.9"/>
<circle cx="94.5" cy="182.5" r="1.3" fill="#1fcc94" fill-opacity="0.9"/>
<circle cx="96.0" cy="184.2" r="1.3" fill="#1fcc94" fill-opacity="0.9"/>
<circle cx="61.7" cy="178.4" r="1.3" fill="#1fcc94" fill-opacity="0.9"/>
<circle cx="45.3" cy="180.9" r="1.3" fill="#1fcc94" fill-opacity="0.9"/>
<circle cx="72.1" cy="179.5" r="1.3" fill="#1fcc94" fill-opacity="0.9"/>
<circle cx="63.5" cy="181.6" r="1.3" fill="#1fcc94" fill-opacity="0.9"/>
<circle cx="78.7" cy="182.3" r="1.3" fill="#1fcc94" fill-opacity="0.9"/>
<circle cx="80.9" cy="184.1" r="1.3" fill="#1fcc94" fill-opacity="0.9"/>
<circle cx="68.7" cy="176.7" r="1.3" fill="#1fcc94" fill-opacity="0.9"/>
<circle cx="73.4" cy="189.2" r="1.3" fill="#1fcc94" fill-opacity="0.9"/>
<circle cx="64.8" cy="181.1" r="1.3" fill="#1fcc94" fill-opacity="0.9"/>
<circle cx="71.4" cy="181.9" r="1.3" fill="#1fcc94" fill-opacity="0.9"/>
<circle cx="72.8" cy="182.1" r="1.3" fill="#1fcc94" fill-opacity="0.9"/>
<circle cx="71.1" cy="191.6" r="1.3" fill="#1fcc94" fill-opacity="0.9"/>
<circle cx="78.2" cy="177.5" r="1.3" fill="#1fcc94" fill-opacity="0.9"/>
<circle cx="78.4" cy="186.2" r="1.3" fill="#1fcc94" fill-opacity="0.9"/>
<circle cx="78.5" cy="191.6" r="1.3" fill="#1fcc94" fill-opacity="0.9"/>
<circle cx="48.6" cy="176.2" r="1.3" fill="#1fcc94" fill-opacity="0.9"/>
<circle cx="60.9" cy="174.9" r="1.3" fill="#1fcc94" fill-opacity="0.9"/>
<circle cx="59.0" cy="197.7" r="1.3" fill="#1fcc94" fill-opacity="0.9"/>
<circle cx="59.6" cy="168.7" r="1.3" fill="#1fcc94" fill-opacity="0.9"/>
<circle cx="67.9" cy="191.5" r="1.3" fill="#1fcc94" fill-opacity="0.9"/>
<circle cx="63.1" cy="177.0" r="1.3" fill="#1fcc94" fill-opacity="0.9"/>
<circle cx="79.1" cy="183.9" r="1.3" fill="#1fcc94" fill-opacity="0.9"/>
<circle cx="91.7" cy="183.7" r="1.3" fill="#1fcc94" fill-opacity="0.9"/>
<circle cx="72.5" cy="179.1" r="1.3" fill="#1fcc94" fill-opacity="0.9"/>
<circle cx="93.9" cy="182.5" r="1.3" fill="#1fcc94" fill-opacity="0.9"/>
<circle cx="85.9" cy="194.5" r="1.3" fill="#1fcc94" fill-opacity="0.9"/>
<circle cx="70.9" cy="177.7" r="1.3" fill="#1fcc94" fill-opacity="0.9"/>
<circle cx="69.0" cy="174.9" r="1.3" fill="#1fcc94" fill-opacity="0.9"/>
<circle cx="80.4" cy="179.1" r="1.3" fill="#1fcc94" fill-opacity="0.9"/>
<circle cx="70.1" cy="164.9" r="1.3" fill="#1fcc94" fill-opacity="0.9"/>
<circle cx="88.6" cy="189.2" r="1.3" fill="#1fcc94" fill-opacity="0.9"/>
<circle cx="74.0" cy="165.7" r="1.3" fill="#1fcc94" fill-opacity="0.9"/>
<circle cx="68.4" cy="176.1" r="1.3" fill="#1fcc94" fill-opacity="0.9"/>
<circle cx="85.3" cy="186.8" r="1.3" fill="#1fcc94" fill-opacity="0.9"/>
<circle cx="57.9" cy="177.9" r="1.3" fill="#1fcc94" fill-opacity="0.9"/>
<circle cx="77.4" cy="176.8" r="1.3" fill="#1fcc94" fill-opacity="0.9"/>
<circle cx="82.8" cy="185.9" r="1.3" fill="#1fcc94" fill-opacity="0.9"/>
<circle cx="83.7" cy="182.6" r="1.3" fill="#1fcc94" fill-opacity="0.9"/>
<circle cx="75.4" cy="183.7" r="1.3" fill="#1fcc94" fill-opacity="0.9"/>
<circle cx="69.7" cy="177.7" r="1.3" fill="#1fcc94" fill-opacity="0.9"/>
<circle cx="59.4" cy="184.0" r="1.3" fill="#1fcc94" fill-opacity="0.9"/>
<circle cx="72.9" cy="193.5" r="1.3" fill="#1fcc94" fill-opacity="0.9"/>
<circle cx="67.3" cy="195.7" r="1.3" fill="#1fcc94" fill-opacity="0.9"/>
<circle cx="64.1" cy="177.0" r="1.3" fill="#1fcc94" fill-opacity="0.9"/>
<circle cx="80.0" cy="185.7" r="1.3" fill="#1fcc94" fill-opacity="0.9"/>
<circle cx="69.9" cy="192.3" r="1.3" fill="#1fcc94" fill-opacity="0.9"/>
<circle cx="96.1" cy="186.2" r="1.3" fill="#1fcc94" fill-opacity="0.9"/>
<circle cx="86.8" cy="193.3" r="1.3" fill="#1fcc94" fill-opacity="0.9"/>
<circle cx="70.5" cy="195.3" r="1.3" fill="#1fcc94" fill-opacity="0.9"/>
<circle cx="82.8" cy="179.6" r="1.3" fill="#1fcc94" fill-opacity="0.9"/>
<circle cx="48.6" cy="177.0" r="1.3" fill="#1fcc94" fill-opacity="0.9"/>
<circle cx="80.9" cy="197.8" r="1.3" fill="#1fcc94" fill-opacity="0.9"/>
<circle cx="49.5" cy="184.3" r="1.3" fill="#1fcc94" fill-opacity="0.9"/>
<circle cx="64.8" cy="190.8" r="1.3" fill="#1fcc94" fill-opacity="0.9"/>
<circle cx="73.2" cy="181.7" r="1.3" fill="#1fcc94" fill-opacity="0.9"/>
<circle cx="80.9" cy="180.7" r="1.3" fill="#1fcc94" fill-opacity="0.9"/>
<circle cx="92.0" cy="180.6" r="1.3" fill="#1fcc94" fill-opacity="0.9"/>
<circle cx="56.1" cy="182.2" r="1.3" fill="#1fcc94" fill-opacity="0.9"/>
<circle cx="59.3" cy="187.0" r="1.3" fill="#1fcc94" fill-opacity="0.9"/>
<circle cx="71.8" cy="183.0" r="1.3" fill="#1fcc94" fill-opacity="0.9"/>
<circle cx="79.1" cy="196.1" r="1.3" fill="#1fcc94" fill-opacity="0.9"/>
<circle cx="57.0" cy="179.1" r="1.3" fill="#1fcc94" fill-opacity="0.9"/>
<circle cx="70.3" cy="184.8" r="1.3" fill="#1fcc94" fill-opacity="0.9"/>
<circle cx="72.0" cy="188.4" r="1.3" fill="#1fcc94" fill-opacity="0.9"/>
<circle cx="81.8" cy="183.4" r="1.3" fill="#1fcc94" fill-opacity="0.9"/>
<circle cx="71.7" cy="187.7" r="1.3" fill="#1fcc94" fill-opacity="0.9"/>
<circle cx="70.6" cy="201.6" r="1.3" fill="#1fcc94" fill-opacity="0.9"/>
<circle cx="60.3" cy="179.6" r="1.3" fill="#1fcc94" fill-opacity="0.9"/>
<circle cx="53.6" cy="176.6" r="1.3" fill="#1fcc94" fill-opacity="0.9"/>
<circle cx="74.7" cy="193.4" r="1.3" fill="#1fcc94" fill-opacity="0.9"/>
<circle cx="69.6" cy="184.6" r="1.3" fill="#1fcc94" fill-opacity="0.9"/>
<circle cx="78.7" cy="180.7" r="1.3" fill="#1fcc94" fill-opacity="0.9"/>
<circle cx="72.3" cy="189.1" r="1.3" fill="#1fcc94" fill-opacity="0.9"/>
<circle cx="71.0" cy="183.3" r="1.3" fill="#1fcc94" fill-opacity="0.9"/>
<circle cx="82.2" cy="183.9" r="1.3" fill="#1fcc94" fill-opacity="0.9"/>
<circle cx="63.6" cy="190.2" r="1.3" fill="#1fcc94" fill-opacity="0.9"/>
<circle cx="68.1" cy="187.1" r="1.3" fill="#1fcc94" fill-opacity="0.9"/>
<circle cx="58.6" cy="180.2" r="1.3" fill="#1fcc94" fill-opacity="0.9"/>
<circle cx="66.5" cy="180.9" r="1.3" fill="#1fcc94" fill-opacity="0.9"/>
<circle cx="79.5" cy="188.0" r="1.3" fill="#1fcc94" fill-opacity="0.9"/>
<circle cx="102.5" cy="193.8" r="1.3" fill="#1fcc94" fill-opacity="0.9"/>
<circle cx="86.9" cy="186.4" r="1.3" fill="#1fcc94" fill-opacity="0.9"/>
<circle cx="63.2" cy="179.0" r="1.3" fill="#1fcc94" fill-opacity="0.9"/>
<circle cx="80.5" cy="169.3" r="1.3" fill="#1fcc94" fill-opacity="0.9"/>
<circle cx="76.9" cy="175.6" r="1.3" fill="#1fcc94" fill-opacity="0.9"/>
<circle cx="82.6" cy="179.5" r="1.3" fill="#1fcc94" fill-opacity="0.9"/>
<circle cx="79.3" cy="186.2" r="1.3" fill="#1fcc94" fill-opacity="0.9"/>
<circle cx="79.3" cy="192.6" r="1.3" fill="#1fcc94" fill-opacity="0.9"/>
<circle cx="87.9" cy="194.6" r="1.3" fill="#1fcc94" fill-opacity="0.9"/>
<circle cx="76.0" cy="169.5" r="1.3" fill="#1fcc94" fill-opacity="0.9"/>
<circle cx="70.0" cy="182.4" r="1.3" fill="#1fcc94" fill-opacity="0.9"/>
<circle cx="87.6" cy="187.3" r="1.3" fill="#1fcc94" fill-opacity="0.9"/>
<circle cx="62.5" cy="178.7" r="1.3" fill="#1fcc94" fill-opacity="0.9"/>
<circle cx="80.2" cy="180.5" r="1.3" fill="#1fcc94" fill-opacity="0.9"/>
<circle cx="63.0" cy="168.5" r="1.3" fill="#1fcc94" fill-opacity="0.9"/>
<circle cx="94.1" cy="189.1" r="1.3" fill="#1fcc94" fill-opacity="0.9"/>
<circle cx="76.2" cy="187.2" r="1.3" fill="#1fcc94" fill-opacity="0.9"/>
<circle cx="90.8" cy="193.2" r="1.3" fill="#1fcc94" fill-opacity="0.9"/>
<circle cx="81.4" cy="189.0" r="1.3" fill="#1fcc94" fill-opacity="0.9"/>
<circle cx="64.0" cy="175.9" r="1.3" fill="#1fcc94" fill-opacity="0.9"/>
<circle cx="89.8" cy="188.1" r="1.3" fill="#1fcc94" fill-opacity="0.9"/>
<circle cx="64.2" cy="175.3" r="1.3" fill="#1fcc94" fill-opacity="0.9"/>
<circle cx="72.2" cy="181.0" r="1.3" fill="#1fcc94" fill-opacity="0.9"/>
<circle cx="92.2" cy="180.9" r="1.3" fill="#1fcc94" fill-opacity="0.9"/>
<circle cx="66.2" cy="165.7" r="1.3" fill="#1fcc94" fill-opacity="0.9"/>
<circle cx="72.9" cy="177.9" r="1.3" fill="#1fcc94" fill-opacity="0.9"/>
<circle cx="64.6" cy="181.3" r="1.3" fill="#1fcc94" fill-opacity="0.9"/>
<circle cx="50.5" cy="164.8" r="1.3" fill="#1fcc94" fill-opacity="0.9"/>
<circle cx="90.2" cy="196.6" r="1.3" fill="#1fcc94" fill-opacity="0.9"/>
<circle cx="53.6" cy="189.2" r="1.3" fill="#1fcc94" fill-opacity="0.9"/>
<circle cx="87.8" cy="190.7" r="1.3" fill="#1fcc94" fill-opacity="0.9"/>
<circle cx="72.0" cy="185.3" r="1.3" fill="#1fcc94" fill-opacity="0.9"/>
<circle cx="71.3" cy="190.4" r="1.3" fill="#1fcc94" fill-opacity="0.9"/>
<circle cx="73.1" cy="193.4" r="1.3" fill="#1fcc94" fill-opacity="0.9"/>
<circle cx="71.9" cy="180.9" r="1.3" fill="#1fcc94" fill-opacity="0.9"/>
<circle cx="78.8" cy="186.6" r="1.3" fill="#1fcc94" fill-opacity="0.9"/>
<circle cx="61.3" cy="179.0" r="1.3" fill="#1fcc94" fill-opacity="0.9"/>
<circle cx="66.6" cy="170.8" r="1.3" fill="#1fcc94" fill-opacity="0.9"/>
<circle cx="82.6" cy="186.8" r="1.3" fill="#1fcc94" fill-opacity="0.9"/>
<circle cx="66.8" cy="186.5" r="1.3" fill="#1fcc94" fill-opacity="0.9"/>
<circle cx="60.9" cy="182.5" r="1.3" fill="#1fcc94" fill-opacity="0.9"/>
<circle cx="76.6" cy="180.8" r="1.3" fill="#1fcc94" fill-opacity="0.9"/>
<circle cx="80.1" cy="170.8" r="1.3" fill="#1fcc94" fill-opacity="0.9"/>
<circle cx="63.8" cy="180.7" r="1.3" fill="#1fcc94" fill-opacity="0.9"/>
<circle cx="66.2" cy="180.3" r="1.3" fill="#1fcc94" fill-opacity="0.9"/>
<circle cx="74.8" cy="181.0" r="1.3" fill="#1fcc94" fill-opacity="0.9"/>
<circle cx="69.8" cy="179.9" r="1.3" fill="#1fcc94" fill-opacity="0.9"/>
<circle cx="73.5" cy="178.2" r="1.3" fill="#1fcc94" fill-opacity="0.9"/>
<circle cx="48.7" cy="182.8" r="1.3" fill="#1fcc94" fill-opacity="0.9"/>
<circle cx="72.8" cy="190.5" r="1.3" fill="#1fcc94" fill-opacity="0.9"/>
<circle cx="59.5" cy="175.3" r="1.3" fill="#1fcc94" fill-opacity="0.9"/>
<circle cx="64.5" cy="176.6" r="1.3" fill="#1fcc94" fill-opacity="0.9"/>
<circle cx="82.3" cy="183.8" r="1.3" fill="#1fcc94" fill-opacity="0.9"/>
<circle cx="79.3" cy="185.9" r="1.3" fill="#1fcc94" fill-opacity="0.9"/>
<circle cx="54.8" cy="178.6" r="1.3" fill="#1fcc94" fill-opacity="0.9"/>
<circle cx="78.6" cy="188.6" r="1.3" fill="#1fcc94" fill-opacity="0.9"/>
<circle cx="71.5" cy="177.8" r="1.3" fill="#1fcc94" fill-opacity="0.9"/>
<circle cx="61.6" cy="175.8" r="1.3" fill="#1fcc94" fill-opacity="0.9"/>
<circle cx="96.6" cy="193.8" r="1.3" fill="#1fcc94" fill-opacity="0.9"/>
<circle cx="74.7" cy="184.9" r="1.3" fill="#1fcc94" fill-opacity="0.9"/>
<circle cx="92.5" cy="186.6" r="1.3" fill="#1fcc94" fill-opacity="0.9"/>
<circle cx="84.3" cy="191.3" r="1.3" fill="#1fcc94" fill-opacity="0.9"/>
<circle cx="72.6" cy="183.3" r="1.3" fill="#1fcc94" fill-opacity="0.9"/>
<circle cx="50.2" cy="167.1" r="1.3" fill="#1fcc94" fill-opacity="0.9"/>
<circle cx="84.3" cy="198.6" r="1.3" fill="#1fcc94" fill-opacity="0.9"/>
<circle cx="82.3" cy="186.9" r="1.3" fill="#1fcc94" fill-opacity="0.9"/>
<circle cx="78.5" cy="182.4" r="1.3" fill="#1fcc94" fill-opacity="0.9"/>
<circle cx="53.7" cy="179.5" r="1.3" fill="#1fcc94" fill-opacity="0.9"/>
<circle cx="91.8" cy="192.6" r="1.3" fill="#1fcc94" fill-opacity="0.9"/>
<circle cx="59.8" cy="189.1" r="1.3" fill="#1fcc94" fill-opacity="0.9"/>
<circle cx="57.2" cy="176.7" r="1.3" fill="#1fcc94" fill-opacity="0.9"/>
<circle cx="94.4" cy="186.3" r="1.3" fill="#1fcc94" fill-opacity="0.9"/>
<circle cx="75.9" cy="168.7" r="1.3" fill="#1fcc94" fill-opacity="0.9"/>
<circle cx="66.2" cy="186.2" r="1.3" fill="#1fcc94" fill-opacity="0.9"/>
<circle cx="79.6" cy="181.4" r="1.3" fill="#1fcc94" fill-opacity="0.9"/>
<circle cx="59.9" cy="187.8" r="1.3" fill="#1fcc94" fill-opacity="0.9"/>
<circle cx="76.5" cy="182.6" r="1.3" fill="#1fcc94" fill-opacity="0.9"/>
<circle cx="56.1" cy="180.1" r="1.3" fill="#1fcc94" fill-opacity="0.9"/>
<circle cx="65.9" cy="178.2" r="1.3" fill="#1fcc94" fill-opacity="0.9"/>
<circle cx="71.3" cy="183.5" r="1.3" fill="#1fcc94" fill-opacity="0.9"/>
<circle cx="68.3" cy="174.8" r="1.3" fill="#1fcc94" fill-opacity="0.9"/>
<circle cx="90.5" cy="190.8" r="1.3" fill="#1fcc94" fill-opacity="0.9"/>
<circle cx="83.6" cy="191.6" r="1.3" fill="#1fcc94" fill-opacity="0.9"/>
<circle cx="73.7" cy="178.4" r="1.3" fill="#1fcc94" fill-opacity="0.9"/>
<circle cx="92.1" cy="191.3" r="1.3" fill="#1fcc94" fill-opacity="0.9"/>
<circle cx="71.9" cy="181.7" r="1.3" fill="#1fcc94" fill-opacity="0.9"/>
<circle cx="53.7" cy="177.9" r="1.3" fill="#1fcc94" fill-opacity="0.9"/>
<circle cx="64.2" cy="178.4" r="1.3" fill="#1fcc94" fill-opacity="0.9"/>
<circle cx="58.4" cy="193.0" r="1.3" fill="#1fcc94" fill-opacity="0.9"/>
<circle cx="73.3" cy="181.7" r="1.3" fill="#1fcc94" fill-opacity="0.9"/>
<circle cx="65.8" cy="175.2" r="1.3" fill="#1fcc94" fill-opacity="0.9"/>
<circle cx="69.3" cy="186.6" r="1.3" fill="#1fcc94" fill-opacity="0.9"/>
<circle cx="78.9" cy="195.9" r="1.3" fill="#1fcc94" fill-opacity="0.9"/>
<circle cx="64.2" cy="181.1" r="1.3" fill="#1fcc94" fill-opacity="0.9"/>
<circle cx="83.6" cy="187.5" r="1.3" fill="#1fcc94" fill-opacity="0.9"/>
<circle cx="76.7" cy="189.0" r="1.3" fill="#1fcc94" fill-opacity="0.9"/>
<circle cx="76.7" cy="172.9" r="1.3" fill="#1fcc94" fill-opacity="0.9"/>
<circle cx="64.1" cy="164.5" r="1.3" fill="#1fcc94" fill-opacity="0.9"/>
<circle cx="64.6" cy="180.9" r="1.3" fill="#1fcc94" fill-opacity="0.9"/>
<circle cx="75.0" cy="176.8" r="1.3" fill="#1fcc94" fill-opacity="0.9"/>
<circle cx="57.0" cy="193.5" r="1.3" fill="#1fcc94" fill-opacity="0.9"/>
<circle cx="80.5" cy="180.0" r="1.3" fill="#1fcc94" fill-opacity="0.9"/>
<circle cx="80.8" cy="167.3" r="1.3" fill="#1fcc94" fill-opacity="0.9"/>
<circle cx="75.4" cy="182.3" r="1.3" fill="#1fcc94" fill-opacity="0.9"/>
<circle cx="84.7" cy="184.1" r="1.3" fill="#1fcc94" fill-opacity="0.9"/>
<circle cx="94.0" cy="197.8" r="1.3" fill="#1fcc94" fill-opacity="0.9"/>
<circle cx="83.2" cy="188.8" r="1.3" fill="#1fcc94" fill-opacity="0.9"/>
<circle cx="84.6" cy="171.7" r="1.3" fill="#1fcc94" fill-opacity="0.9"/>
<circle cx="72.7" cy="185.1" r="1.3" fill="#1fcc94" fill-opacity="0.9"/>
<circle cx="66.4" cy="187.4" r="1.3" fill="#1fcc94" fill-opacity="0.9"/>
<circle cx="64.8" cy="176.7" r="1.3" fill="#1fcc94" fill-opacity="0.9"/>
<circle cx="73.3" cy="183.0" r="1.3" fill="#1fcc94" fill-opacity="0.9"/>
<circle cx="70.6" cy="176.4" r="1.3" fill="#1fcc94" fill-opacity="0.9"/>
<circle cx="79.1" cy="186.1" r="1.3" fill="#1fcc94" fill-opacity="0.9"/>
<circle cx="81.3" cy="186.7" r="1.3" fill="#1fcc94" fill-opacity="0.9"/>
<circle cx="58.1" cy="169.2" r="1.3" fill="#1fcc94" fill-opacity="0.9"/>
<circle cx="78.7" cy="191.6" r="1.3" fill="#1fcc94" fill-opacity="0.9"/>
<circle cx="86.6" cy="184.8" r="1.3" fill="#1fcc94" fill-opacity="0.9"/>
<circle cx="52.9" cy="166.6" r="1.3" fill="#1fcc94" fill-opacity="0.9"/>
<circle cx="77.1" cy="178.3" r="1.3" fill="#1fcc94" fill-opacity="0.9"/>
<circle cx="75.3" cy="185.1" r="1.3" fill="#1fcc94" fill-opacity="0.9"/>
<circle cx="53.1" cy="171.1" r="1.3" fill="#1fcc94" fill-opacity="0.9"/>
<circle cx="73.2" cy="185.4" r="1.3" fill="#1fcc94" fill-opacity="0.9"/>
<circle cx="77.3" cy="184.0" r="1.3" fill="#1fcc94" fill-opacity="0.9"/>
<circle cx="81.4" cy="188.3" r="1.3" fill="#1fcc94" fill-opacity="0.9"/>
<circle cx="72.3" cy="198.0" r="1.3" fill="#1fcc94" fill-opacity="0.9"/>
<circle cx="67.4" cy="177.1" r="1.3" fill="#1fcc94" fill-opacity="0.9"/>
<circle cx="89.9" cy="190.6" r="1.3" fill="#1fcc94" fill-opacity="0.9"/>
<circle cx="71.3" cy="171.9" r="1.3" fill="#1fcc94" fill-opacity="0.9"/>
<circle cx="68.7" cy="177.1" r="1.3" fill="#1fcc94" fill-opacity="0.9"/>
<circle cx="94.2" cy="189.0" r="1.3" fill="#1fcc94" fill-opacity="0.9"/>
<circle cx="88.5" cy="192.6" r="1.3" fill="#1fcc94" fill-opacity="0.9"/>
<circle cx="75.5" cy="184.6" r="1.3" fill="#1fcc94" fill-opacity="0.9"/>
<circle cx="74.3" cy="175.9" r="1.3" fill="#1fcc94" fill-opacity="0.9"/>
<circle cx="103.3" cy="196.4" r="1.3" fill="#1fcc94" fill-opacity="0.9"/>
<circle cx="65.5" cy="177.8" r="1.3" fill="#1fcc94" fill-opacity="0.9"/>
<circle cx="59.4" cy="176.2" r="1.3" fill="#1fcc94" fill-opacity="0.9"/>
<circle cx="80.1" cy="187.3" r="1.3" fill="#1fcc94" fill-opacity="0.9"/>
<circle cx="79.6" cy="195.9" r="1.3" fill="#1fcc94" fill-opacity="0.9"/>
<circle cx="47.9" cy="228.3" r="1.3" fill="#1fcc94" fill-opacity="0.9"/>
<circle cx="54.7" cy="214.4" r="1.3" fill="#1fcc94" fill-opacity="0.9"/>
<circle cx="59.8" cy="203.4" r="1.3" fill="#1fcc94" fill-opacity="0.9"/>
<circle cx="65.0" cy="210.0" r="1.3" fill="#1fcc94" fill-opacity="0.9"/>
<circle cx="65.0" cy="222.0" r="1.3" fill="#1fcc94" fill-opacity="0.9"/>
<circle cx="70.0" cy="222.0" r="1.3" fill="#1fcc94" fill-opacity="0.9"/>
<circle cx="75.9" cy="230.0" r="1.3" fill="#1fcc94" fill-opacity="0.9"/>
<circle cx="81.4" cy="237.0" r="1.3" fill="#1fcc94" fill-opacity="0.9"/>
<circle cx="82.0" cy="215.4" r="1.3" fill="#1fcc94" fill-opacity="0.9"/>
<circle cx="82.0" cy="222.0" r="1.3" fill="#1fcc94" fill-opacity="0.9"/>
<circle cx="87.2" cy="217.0" r="1.3" fill="#1fcc94" fill-opacity="0.9"/>
<circle cx="102.6" cy="206.8" r="1.3" fill="#1fcc94" fill-opacity="0.9"/>
<circle cx="73.0" cy="206.0" r="1.3" fill="#1fcc94" fill-opacity="0.9"/>
<circle cx="90.0" cy="205.0" r="1.3" fill="#1fcc94" fill-opacity="0.9"/>
<circle cx="57.0" cy="206.0" r="1.3" fill="#1fcc94" fill-opacity="0.9"/>
<polygon points="34.2,169.8 112.6,195.4 112.6,198.6 34.2,172.8" fill="#9cc0ee" fill-opacity="0.8"/>
<line x1="34.2" y1="171.3" x2="112.6" y2="197" stroke="#173a5e" stroke-width="0.85"/>
<line x1="32.5" y1="159.6" x2="32.5" y2="239.3" stroke="#555" stroke-width="0.8"/>
<line x1="32.5" y1="239.3" x2="114.9" y2="239.3" stroke="#555" stroke-width="0.8"/>
<line x1="31.0" y1="239.4" x2="32.5" y2="239.4" stroke="#555" stroke-width="0.5"/>
<text x="29.5" y="241.4" text-anchor="end" style="font-family:'Liberation Sans',sans-serif;font-size:5.5px" fill="#333">13</text>
<line x1="31.0" y1="226.8" x2="32.5" y2="226.8" stroke="#555" stroke-width="0.5"/>
<text x="29.5" y="228.8" text-anchor="end" style="font-family:'Liberation Sans',sans-serif;font-size:5.5px" fill="#333">14</text>
<line x1="31.0" y1="214.20000000000002" x2="32.5" y2="214.20000000000002" stroke="#555" stroke-width="0.5"/>
<text x="29.5" y="216.20000000000002" text-anchor="end" style="font-family:'Liberation Sans',sans-serif;font-size:5.5px" fill="#333">15</text>
<line x1="31.0" y1="201.60000000000002" x2="32.5" y2="201.60000000000002" stroke="#555" stroke-width="0.5"/>
<text x="29.5" y="203.60000000000002" text-anchor="end" style="font-family:'Liberation Sans',sans-serif;font-size:5.5px" fill="#333">16</text>
<line x1="31.0" y1="189.0" x2="32.5" y2="189.0" stroke="#555" stroke-width="0.5"/>
<text x="29.5" y="191.0" text-anchor="end" style="font-family:'Liberation Sans',sans-serif;font-size:5.5px" fill="#333">17</text>
<line x1="31.0" y1="176.4" x2="32.5" y2="176.4" stroke="#555" stroke-width="0.5"/>
<text x="29.5" y="178.4" text-anchor="end" style="font-family:'Liberation Sans',sans-serif;font-size:5.5px" fill="#333">18</text>
<line x1="31.0" y1="163.8" x2="32.5" y2="163.8" stroke="#555" stroke-width="0.5"/>
<text x="29.5" y="165.8" text-anchor="end" style="font-family:'Liberation Sans',sans-serif;font-size:5.5px" fill="#333">19</text>
<line x1="44.2" y1="239.3" x2="44.2" y2="240.8" stroke="#555" stroke-width="0.5"/>
<text x="44.2" y="247.70000000000002" text-anchor="middle" style="font-family:'Liberation Sans',sans-serif;font-size:5.5px" fill="#333">1</text>
<line x1="60.550000000000004" y1="239.3" x2="60.550000000000004" y2="240.8" stroke="#555" stroke-width="0.5"/>
<text x="60.550000000000004" y="247.70000000000002" text-anchor="middle" style="font-family:'Liberation Sans',sans-serif;font-size:5.5px" fill="#333">2</text>
<line x1="76.9" y1="239.3" x2="76.9" y2="240.8" stroke="#555" stroke-width="0.5"/>
<text x="76.9" y="247.70000000000002" text-anchor="middle" style="font-family:'Liberation Sans',sans-serif;font-size:5.5px" fill="#333">3</text>
<line x1="93.25" y1="239.3" x2="93.25" y2="240.8" stroke="#555" stroke-width="0.5"/>
<text x="93.25" y="247.70000000000002" text-anchor="middle" style="font-family:'Liberation Sans',sans-serif;font-size:5.5px" fill="#333">4</text>
<line x1="109.60000000000001" y1="239.3" x2="109.60000000000001" y2="240.8" stroke="#555" stroke-width="0.5"/>
<text x="109.60000000000001" y="247.70000000000002" text-anchor="middle" style="font-family:'Liberation Sans',sans-serif;font-size:5.5px" fill="#333">5</text>
<text x="74" y="254.3" text-anchor="middle" style="font-family:'Liberation Sans',sans-serif;font-size:5.5px" fill="#222">The expression of PRKCE</text>
<text x="74" y="260.6" text-anchor="middle" style="font-family:'Liberation Sans',sans-serif;font-size:5.5px" fill="#222">Log<tspan font-size="3.8px" dy="1">2</tspan><tspan dy="-1"> (TPM+1)</tspan></text>
<text transform="translate(12.9 200) rotate(-90)" text-anchor="middle" style="font-family:'Liberation Sans',sans-serif;font-size:5.2px" fill="#222">The expression of hsa−miR−21−5p</text>
<text transform="translate(18.8 200) rotate(-90)" text-anchor="middle" style="font-family:'Liberation Sans',sans-serif;font-size:5.2px" fill="#222">Log<tspan font-size="3.8px" dy="1">2</tspan><tspan dy="-1"> (RPM+1)</tspan></text>
<text x="100" y="165" text-anchor="middle" style="font-family:'Liberation Sans',sans-serif;font-size:5.6px" fill="#e8334a">Spearman</text>
<text x="100" y="173.4" text-anchor="middle" style="font-family:'Liberation Sans',sans-serif;font-size:5.6px" fill="#e8334a">r = −0.450</text>
<text x="100" y="180.7" text-anchor="middle" style="font-family:'Liberation Sans',sans-serif;font-size:5.6px" fill="#e8334a">P &lt; 0.001</text>
<text x="120" y="153.3" style="font-family:'Liberation Sans',sans-serif;font-weight:bold;font-size:7.5px" fill="#111">E</text>
<rect x="132.1" y="157.4" width="104" height="97" fill="#f6f6fc" stroke="#8a8c98" stroke-width="0.7"/>
<rect x="132.5" y="157.8" width="103.2" height="11" fill="#fff"/>
<rect x="143.8" y="169.5" width="88.5" height="69.5" fill="#fff"/>
<line x1="236" y1="157" x2="236" y2="255" stroke="#c8ccd8" stroke-width="1.5"/>
<text x="137.8" y="162.5" textLength="91.9" lengthAdjust="spacingAndGlyphs" style="font-family:'Liberation Sans',sans-serif;font-weight:bold;font-size:3.3px" fill="#222">hsa-miR-21-5p with 537 cancer and 71 normal samples in KIRC</text>
<text x="166" y="167" textLength="34.5" lengthAdjust="spacingAndGlyphs" style="font-family:'Liberation Sans',sans-serif;font-size:2.8px" fill="#666">View Query  Gen Bank Ltd 4 project</text>
<line x1="134" y1="168.5" x2="234" y2="168.5" stroke="#e4e6ec" stroke-width="0.5"/>
<line x1="144" y1="170.0" x2="232" y2="170.0" stroke="#eeeeee" stroke-width="0.5"/>
<text x="141.5" y="170.8" text-anchor="end" style="font-family:'Liberation Sans',sans-serif;font-size:2.2px" fill="#666">20</text>
<line x1="144" y1="178.5" x2="232" y2="178.5" stroke="#eeeeee" stroke-width="0.5"/>
<text x="141.5" y="179.3" text-anchor="end" style="font-family:'Liberation Sans',sans-serif;font-size:2.2px" fill="#666">18</text>
<line x1="144" y1="187.1" x2="232" y2="187.1" stroke="#fbe8d8" stroke-width="0.5"/>
<text x="141.5" y="187.9" text-anchor="end" style="font-family:'Liberation Sans',sans-serif;font-size:2.2px" fill="#666">16</text>
<line x1="144" y1="195.6" x2="232" y2="195.6" stroke="#fbe8d8" stroke-width="0.5"/>
<text x="141.5" y="196.4" text-anchor="end" style="font-family:'Liberation Sans',sans-serif;font-size:2.2px" fill="#666">14</text>
<line x1="144" y1="204.1" x2="232" y2="204.1" stroke="#dcecf8" stroke-width="0.5"/>
<text x="141.5" y="204.9" text-anchor="end" style="font-family:'Liberation Sans',sans-serif;font-size:2.2px" fill="#666">12</text>
<line x1="144" y1="212.7" x2="232" y2="212.7" stroke="#eeeeee" stroke-width="0.5"/>
<text x="141.5" y="213.5" text-anchor="end" style="font-family:'Liberation Sans',sans-serif;font-size:2.2px" fill="#666">10</text>
<line x1="144" y1="221.2" x2="232" y2="221.2" stroke="#eeeeee" stroke-width="0.5"/>
<text x="141.5" y="222.0" text-anchor="end" style="font-family:'Liberation Sans',sans-serif;font-size:2.2px" fill="#666">8</text>
<line x1="144" y1="229.7" x2="232" y2="229.7" stroke="#eeeeee" stroke-width="0.5"/>
<text x="141.5" y="230.5" text-anchor="end" style="font-family:'Liberation Sans',sans-serif;font-size:2.2px" fill="#666">6</text>
<line x1="144" y1="238.2" x2="232" y2="238.2" stroke="#eeeeee" stroke-width="0.5"/>
<text x="141.5" y="239.0" text-anchor="end" style="font-family:'Liberation Sans',sans-serif;font-size:2.2px" fill="#666">4</text>
<text transform="translate(138.4 224.4) rotate(-90)" textLength="41" lengthAdjust="spacingAndGlyphs" style="font-family:'Liberation Sans',sans-serif;font-size:2.4px" fill="#a0a0a8">Expression level (log2 RPM)</text>
<line x1="144" y1="238.2" x2="232" y2="238.2" stroke="#ccc" stroke-width="0.5"/>
<rect x="156.5" y="187.2" width="21.9" height="9.9" fill="#e8671c" stroke="#b04a0c" stroke-width="0.5"/>
<line x1="156.5" y1="192.2" x2="178.4" y2="192.2" stroke="#a04a10" stroke-width="0.5"/>
<line x1="164.5" y1="177.8" x2="171" y2="177.8" stroke="#8ac070" stroke-width="0.8"/>
<line x1="167.5" y1="178.5" x2="167.5" y2="187.2" stroke="#333" stroke-width="0.8" stroke-dasharray="0.8 1.3"/>
<line x1="167.5" y1="197.1" x2="167.5" y2="210.8" stroke="#333" stroke-width="0.8" stroke-dasharray="0.8 1.3"/>
<line x1="164.5" y1="210.8" x2="171" y2="210.8" stroke="#8ac070" stroke-width="0.8"/>
<line x1="167.5" y1="208.5" x2="167.5" y2="213" stroke="#8ac070" stroke-width="0.6"/>
<circle cx="167.5" cy="215" r="0.4" fill="#777"/>
<circle cx="167.5" cy="217.5" r="0.4" fill="#777"/>
<circle cx="167.5" cy="219.5" r="0.4" fill="#777"/>
<circle cx="167.5" cy="225" r="0.4" fill="#777"/>
<circle cx="167.5" cy="227" r="0.4" fill="#777"/>
<rect x="202" y="209.4" width="21.7" height="12.4" fill="#5733b5" stroke="#3f22a0" stroke-width="0.5"/>
<line x1="202" y1="216" x2="223.7" y2="216" stroke="#3a60c0" stroke-width="0.5"/>
<line x1="209.5" y1="194" x2="216" y2="194" stroke="#8ac070" stroke-width="0.8"/>
<line x1="212.8" y1="195" x2="212.8" y2="209.4" stroke="#333" stroke-width="0.8" stroke-dasharray="0.8 1.9"/>
<line x1="212.8" y1="221.8" x2="212.8" y2="229" stroke="#333" stroke-width="0.8" stroke-dasharray="0.8 1.9"/>
<line x1="209.5" y1="229.6" x2="216" y2="229.6" stroke="#8ac070" stroke-width="0.8"/>
<text x="174.3" y="178.9" textLength="20.6" lengthAdjust="spacingAndGlyphs" style="font-family:'Liberation Sans',sans-serif;font-size:5.4px" fill="#333">P=2.4e-82</text>
<text x="167.5" y="241.8" text-anchor="middle" style="font-family:'Liberation Sans',sans-serif;font-size:2.2px" fill="#777">Cancer Log2(RPM)</text>
<text x="212.8" y="241.8" text-anchor="middle" style="font-family:'Liberation Sans',sans-serif;font-size:2.2px" fill="#777">Normal Log2(RPM)</text>
<rect x="161.6" y="245.6" width="45.5" height="5.6" fill="#fff" stroke="#999" stroke-width="0.7"/>
<text x="163.5" y="249.4" textLength="41" lengthAdjust="spacingAndGlyphs" style="font-family:'Liberation Sans',sans-serif;font-size:2.6px" fill="#666">□ Box plot   ▫ Show outliers/data</text>
<text x="243.6" y="152.5" style="font-family:'Liberation Sans',sans-serif;font-weight:bold;font-size:7.5px" fill="#111">F</text>
<line x1="266.4" y1="158.7" x2="266.4" y2="251.7" stroke="#222" stroke-width="0.7"/>
<line x1="266.4" y1="251.7" x2="347" y2="251.7" stroke="#222" stroke-width="0.7"/>
<line x1="264.9" y1="248.0" x2="266.4" y2="248.0" stroke="#222" stroke-width="0.5"/>
<text x="263.4" y="249.6" text-anchor="end" style="font-family:'Liberation Sans',sans-serif;font-size:4.6px" fill="#333">13</text>
<line x1="264.9" y1="233.6" x2="266.4" y2="233.6" stroke="#222" stroke-width="0.5"/>
<text x="263.4" y="235.2" text-anchor="end" style="font-family:'Liberation Sans',sans-serif;font-size:4.6px" fill="#333">14</text>
<line x1="264.9" y1="219.2" x2="266.4" y2="219.2" stroke="#222" stroke-width="0.5"/>
<text x="263.4" y="220.8" text-anchor="end" style="font-family:'Liberation Sans',sans-serif;font-size:4.6px" fill="#333">15</text>
<line x1="264.9" y1="204.8" x2="266.4" y2="204.8" stroke="#222" stroke-width="0.5"/>
<text x="263.4" y="206.4" text-anchor="end" style="font-family:'Liberation Sans',sans-serif;font-size:4.6px" fill="#333">16</text>
<line x1="264.9" y1="190.5" x2="266.4" y2="190.5" stroke="#222" stroke-width="0.5"/>
<text x="263.4" y="192.1" text-anchor="end" style="font-family:'Liberation Sans',sans-serif;font-size:4.6px" fill="#333">17</text>
<line x1="264.9" y1="176.1" x2="266.4" y2="176.1" stroke="#222" stroke-width="0.5"/>
<text x="263.4" y="177.7" text-anchor="end" style="font-family:'Liberation Sans',sans-serif;font-size:4.6px" fill="#333">18</text>
<line x1="264.9" y1="161.7" x2="266.4" y2="161.7" stroke="#222" stroke-width="0.5"/>
<text x="263.4" y="163.3" text-anchor="end" style="font-family:'Liberation Sans',sans-serif;font-size:4.6px" fill="#333">19</text>
<line x1="288.7" y1="251.7" x2="288.7" y2="253.2" stroke="#222" stroke-width="0.5"/>
<line x1="325.6" y1="251.7" x2="325.6" y2="253.2" stroke="#222" stroke-width="0.5"/>
<text x="288.7" y="258.8" text-anchor="middle" style="font-family:'Liberation Sans',sans-serif;font-size:4.6px" fill="#333">Normal</text>
<text x="325.6" y="258.8" text-anchor="middle" style="font-family:'Liberation Sans',sans-serif;font-size:4.6px" fill="#333">Tumor</text>
<text transform="translate(247 206) rotate(-90)" text-anchor="middle" style="font-family:'Liberation Sans',sans-serif;font-size:5.2px" fill="#222">The expression of hsa-miR-21-5p</text>
<text transform="translate(253 206) rotate(-90)" text-anchor="middle" style="font-family:'Liberation Sans',sans-serif;font-size:5.2px" fill="#222">Log<tspan font-size="3.2px" dy="1">2</tspan><tspan dy="-1"> (RPM+1)</tspan></text>
<line x1="288.7" y1="162.3" x2="325.6" y2="162.3" stroke="#777" stroke-width="0.6"/>
<line x1="288.7" y1="162.3" x2="288.7" y2="164" stroke="#777" stroke-width="0.6"/>
<line x1="325.6" y1="162.3" x2="325.6" y2="164" stroke="#777" stroke-width="0.6"/>
<text x="307.15" y="161.8" text-anchor="middle" style="font-family:'Liberation Sans',sans-serif;font-size:3.5px" fill="#777">***</text>
<line x1="288.7" y1="196.9" x2="325.6" y2="176.0" stroke="#0a0a0a" stroke-width="0.55"/>
<line x1="288.7" y1="207.3" x2="325.6" y2="173.1" stroke="#0a0a0a" stroke-width="0.55"/>
<line x1="288.7" y1="194.3" x2="325.6" y2="185.8" stroke="#0a0a0a" stroke-width="0.55"/>
<line x1="288.7" y1="200.9" x2="325.6" y2="184.9" stroke="#0a0a0a" stroke-width="0.55"/>
<line x1="288.7" y1="187.3" x2="325.6" y2="163.1" stroke="#0a0a0a" stroke-width="0.55"/>
<line x1="288.7" y1="216.0" x2="325.6" y2="183.1" stroke="#0a0a0a" stroke-width="0.55"/>
<line x1="288.7" y1="203.7" x2="325.6" y2="188.1" stroke="#0a0a0a" stroke-width="0.55"/>
<line x1="288.7" y1="221.4" x2="325.6" y2="179.2" stroke="#0a0a0a" stroke-width="0.55"/>
<line x1="288.7" y1="201.4" x2="325.6" y2="175.3" stroke="#0a0a0a" stroke-width="0.55"/>
<line x1="288.7" y1="239.2" x2="325.6" y2="193.8" stroke="#0a0a0a" stroke-width="0.55"/>
<line x1="288.7" y1="212.3" x2="325.6" y2="175.4" stroke="#0a0a0a" stroke-width="0.55"/>
<line x1="288.7" y1="211.1" x2="325.6" y2="192.0" stroke="#0a0a0a" stroke-width="0.55"/>
<line x1="288.7" y1="193.1" x2="325.6" y2="183.3" stroke="#0a0a0a" stroke-width="0.55"/>
<line x1="288.7" y1="222.6" x2="325.6" y2="184.2" stroke="#0a0a0a" stroke-width="0.55"/>
<line x1="288.7" y1="232.6" x2="325.6" y2="182.1" stroke="#0a0a0a" stroke-width="0.55"/>
<line x1="288.7" y1="203.5" x2="325.6" y2="171.3" stroke="#0a0a0a" stroke-width="0.55"/>
<line x1="288.7" y1="195.8" x2="325.6" y2="192.0" stroke="#0a0a0a" stroke-width="0.55"/>
<line x1="288.7" y1="213.0" x2="325.6" y2="168.8" stroke="#0a0a0a" stroke-width="0.55"/>
<line x1="288.7" y1="211.3" x2="325.6" y2="185.7" stroke="#0a0a0a" stroke-width="0.55"/>
<line x1="288.7" y1="194.2" x2="325.6" y2="185.4" stroke="#0a0a0a" stroke-width="0.55"/>
<line x1="288.7" y1="199.6" x2="325.6" y2="190.9" stroke="#0a0a0a" stroke-width="0.55"/>
<line x1="288.7" y1="210.5" x2="325.6" y2="190.0" stroke="#0a0a0a" stroke-width="0.55"/>
<line x1="288.7" y1="212.5" x2="325.6" y2="189.4" stroke="#0a0a0a" stroke-width="0.55"/>
<line x1="288.7" y1="210.3" x2="325.6" y2="190.4" stroke="#0a0a0a" stroke-width="0.55"/>
<line x1="288.7" y1="196.8" x2="325.6" y2="188.1" stroke="#0a0a0a" stroke-width="0.55"/>
<line x1="288.7" y1="192.9" x2="325.6" y2="176.8" stroke="#0a0a0a" stroke-width="0.55"/>
<line x1="288.7" y1="206.1" x2="325.6" y2="179.5" stroke="#0a0a0a" stroke-width="0.55"/>
<line x1="288.7" y1="213.8" x2="325.6" y2="177.0" stroke="#0a0a0a" stroke-width="0.55"/>
<line x1="288.7" y1="209.0" x2="325.6" y2="168.6" stroke="#0a0a0a" stroke-width="0.55"/>
<line x1="288.7" y1="227.7" x2="325.6" y2="189.6" stroke="#0a0a0a" stroke-width="0.55"/>
<line x1="288.7" y1="221.4" x2="325.6" y2="169.9" stroke="#0a0a0a" stroke-width="0.55"/>
<line x1="288.7" y1="195.1" x2="325.6" y2="187.2" stroke="#0a0a0a" stroke-width="0.55"/>
<line x1="288.7" y1="246.2" x2="325.6" y2="191.6" stroke="#0a0a0a" stroke-width="0.55"/>
<line x1="288.7" y1="197.0" x2="325.6" y2="168.1" stroke="#0a0a0a" stroke-width="0.55"/>
<line x1="288.7" y1="218.7" x2="325.6" y2="182.1" stroke="#0a0a0a" stroke-width="0.55"/>
<line x1="288.7" y1="207.8" x2="325.6" y2="193.2" stroke="#0a0a0a" stroke-width="0.55"/>
<line x1="288.7" y1="209.0" x2="325.6" y2="181.4" stroke="#0a0a0a" stroke-width="0.55"/>
<line x1="288.7" y1="202.0" x2="325.6" y2="167.9" stroke="#0a0a0a" stroke-width="0.55"/>
<line x1="288.7" y1="240.0" x2="325.6" y2="179.3" stroke="#0a0a0a" stroke-width="0.55"/>
<line x1="288.7" y1="215.0" x2="325.6" y2="170.1" stroke="#0a0a0a" stroke-width="0.55"/>
<line x1="288.7" y1="187.6" x2="325.6" y2="190.0" stroke="#0a0a0a" stroke-width="0.55"/>
<line x1="288.7" y1="190.6" x2="325.6" y2="166.1" stroke="#0a0a0a" stroke-width="0.55"/>
<line x1="288.7" y1="209.1" x2="325.6" y2="191.4" stroke="#0a0a0a" stroke-width="0.55"/>
<line x1="288.7" y1="205.8" x2="325.6" y2="171.0" stroke="#0a0a0a" stroke-width="0.55"/>
<line x1="288.7" y1="212.0" x2="325.6" y2="185.1" stroke="#0a0a0a" stroke-width="0.55"/>
<line x1="288.7" y1="215.3" x2="325.6" y2="193.7" stroke="#0a0a0a" stroke-width="0.55"/>
<line x1="288.7" y1="231.6" x2="325.6" y2="174.9" stroke="#0a0a0a" stroke-width="0.55"/>
<line x1="288.7" y1="244.1" x2="325.6" y2="181.5" stroke="#0a0a0a" stroke-width="0.55"/>
<line x1="288.7" y1="244.2" x2="325.6" y2="200.0" stroke="#0a0a0a" stroke-width="0.55"/>
<line x1="288.7" y1="210.3" x2="325.6" y2="178.2" stroke="#0a0a0a" stroke-width="0.55"/>
<line x1="288.7" y1="228.0" x2="325.6" y2="183.2" stroke="#0a0a0a" stroke-width="0.55"/>
<line x1="288.7" y1="220.8" x2="325.6" y2="185.6" stroke="#0a0a0a" stroke-width="0.55"/>
<line x1="288.7" y1="198.8" x2="325.6" y2="179.7" stroke="#0a0a0a" stroke-width="0.55"/>
<line x1="288.7" y1="232.3" x2="325.6" y2="178.4" stroke="#0a0a0a" stroke-width="0.55"/>
<line x1="288.7" y1="203.6" x2="325.6" y2="191.7" stroke="#0a0a0a" stroke-width="0.55"/>
<line x1="288.7" y1="238.8" x2="325.6" y2="199.6" stroke="#0a0a0a" stroke-width="0.55"/>
<line x1="288.7" y1="219.8" x2="325.6" y2="197.1" stroke="#0a0a0a" stroke-width="0.55"/>
<line x1="288.7" y1="195.0" x2="325.6" y2="170.7" stroke="#0a0a0a" stroke-width="0.55"/>
<line x1="288.7" y1="202.6" x2="325.6" y2="183.7" stroke="#0a0a0a" stroke-width="0.55"/>
<line x1="288.7" y1="190.9" x2="325.6" y2="163.5" stroke="#0a0a0a" stroke-width="0.55"/>
<line x1="288.7" y1="202.3" x2="325.6" y2="189.0" stroke="#0a0a0a" stroke-width="0.55"/>
<line x1="288.7" y1="187.2" x2="325.6" y2="163.9" stroke="#0a0a0a" stroke-width="0.55"/>
<line x1="288.7" y1="193.1" x2="325.6" y2="165.9" stroke="#0a0a0a" stroke-width="0.55"/>
<line x1="288.7" y1="242.6" x2="325.6" y2="181.2" stroke="#0a0a0a" stroke-width="0.55"/>
<line x1="288.7" y1="237.0" x2="325.6" y2="193.9" stroke="#0a0a0a" stroke-width="0.55"/>
<line x1="288.7" y1="202.6" x2="325.6" y2="168.2" stroke="#0a0a0a" stroke-width="0.55"/>
<line x1="288.7" y1="202.5" x2="325.6" y2="185.4" stroke="#0a0a0a" stroke-width="0.55"/>
<line x1="288.7" y1="213.9" x2="325.6" y2="170.1" stroke="#0a0a0a" stroke-width="0.55"/>
<line x1="288.7" y1="205.5" x2="325.6" y2="190.4" stroke="#0a0a0a" stroke-width="0.55"/>
<line x1="288.7" y1="201.7" x2="325.6" y2="176.1" stroke="#0a0a0a" stroke-width="0.55"/>
<line x1="288.7" y1="224.8" x2="325.6" y2="183.3" stroke="#0a0a0a" stroke-width="0.55"/>
<line x1="288.7" y1="211.5" x2="325.6" y2="193.5" stroke="#0a0a0a" stroke-width="0.55"/>
<line x1="288.7" y1="186.6" x2="325.6" y2="179.9" stroke="#0a0a0a" stroke-width="0.55"/>
<line x1="288.7" y1="186.5" x2="325.6" y2="174.6" stroke="#0a0a0a" stroke-width="0.55"/>
<line x1="288.7" y1="224.8" x2="325.6" y2="186.5" stroke="#0a0a0a" stroke-width="0.55"/>
<line x1="288.7" y1="235.9" x2="325.6" y2="200.2" stroke="#0a0a0a" stroke-width="0.55"/>
<line x1="288.7" y1="198.1" x2="325.6" y2="165.4" stroke="#0a0a0a" stroke-width="0.55"/>
<line x1="288.7" y1="211.2" x2="325.6" y2="187.4" stroke="#0a0a0a" stroke-width="0.55"/>
<line x1="288.7" y1="214.3" x2="325.6" y2="179.3" stroke="#0a0a0a" stroke-width="0.55"/>
<line x1="288.7" y1="220.4" x2="325.6" y2="172.6" stroke="#0a0a0a" stroke-width="0.55"/>
<line x1="288.7" y1="197.6" x2="325.6" y2="192.9" stroke="#0a0a0a" stroke-width="0.55"/>
<line x1="288.7" y1="246.4" x2="325.6" y2="200.7" stroke="#0a0a0a" stroke-width="0.55"/>
<line x1="288.7" y1="199.9" x2="325.6" y2="177.1" stroke="#0a0a0a" stroke-width="0.55"/>
<line x1="288.7" y1="234.2" x2="325.6" y2="187.6" stroke="#0a0a0a" stroke-width="0.55"/>
<line x1="288.7" y1="238.4" x2="325.6" y2="195.1" stroke="#0a0a0a" stroke-width="0.55"/>
<line x1="288.7" y1="198.1" x2="325.6" y2="168.6" stroke="#0a0a0a" stroke-width="0.55"/>
<line x1="288.7" y1="199.3" x2="325.6" y2="186.3" stroke="#0a0a0a" stroke-width="0.55"/>
<line x1="288.7" y1="245.8" x2="325.6" y2="187.5" stroke="#0a0a0a" stroke-width="0.55"/>
<line x1="288.7" y1="248.0" x2="325.6" y2="203.4" stroke="#0a0a0a" stroke-width="0.55"/>
<line x1="288.7" y1="240.8" x2="325.6" y2="210.6" stroke="#0a0a0a" stroke-width="0.55"/>
<line x1="288.7" y1="230.7" x2="325.6" y2="219.2" stroke="#0a0a0a" stroke-width="0.55"/>
<line x1="288.7" y1="191.9" x2="325.6" y2="210.6" stroke="#0a0a0a" stroke-width="0.55"/>
<line x1="288.7" y1="186.1" x2="325.6" y2="163.1" stroke="#0a0a0a" stroke-width="0.55"/>
<line x1="288.7" y1="187.6" x2="325.6" y2="199.1" stroke="#0a0a0a" stroke-width="0.55"/>
<line x1="288.7" y1="200.5" x2="325.6" y2="166.0" stroke="#0a0a0a" stroke-width="0.55"/>
<circle cx="288.7" cy="196.9" r="1.2" fill="#1a1ad8"/>
<circle cx="325.6" cy="176.0" r="1.2" fill="#e01818"/>
<circle cx="288.7" cy="207.3" r="1.2" fill="#1a1ad8"/>
<circle cx="325.6" cy="173.1" r="1.2" fill="#e01818"/>
<circle cx="288.7" cy="194.3" r="1.2" fill="#1a1ad8"/>
<circle cx="325.6" cy="185.8" r="1.2" fill="#e01818"/>
<circle cx="288.7" cy="200.9" r="1.2" fill="#1a1ad8"/>
<circle cx="325.6" cy="184.9" r="1.2" fill="#e01818"/>
<circle cx="288.7" cy="187.3" r="1.2" fill="#1a1ad8"/>
<circle cx="325.6" cy="163.1" r="1.2" fill="#e01818"/>
<circle cx="288.7" cy="216.0" r="1.2" fill="#1a1ad8"/>
<circle cx="325.6" cy="183.1" r="1.2" fill="#e01818"/>
<circle cx="288.7" cy="203.7" r="1.2" fill="#1a1ad8"/>
<circle cx="325.6" cy="188.1" r="1.2" fill="#e01818"/>
<circle cx="288.7" cy="221.4" r="1.2" fill="#1a1ad8"/>
<circle cx="325.6" cy="179.2" r="1.2" fill="#e01818"/>
<circle cx="288.7" cy="201.4" r="1.2" fill="#1a1ad8"/>
<circle cx="325.6" cy="175.3" r="1.2" fill="#e01818"/>
<circle cx="288.7" cy="239.2" r="1.2" fill="#1a1ad8"/>
<circle cx="325.6" cy="193.8" r="1.2" fill="#e01818"/>
<circle cx="288.7" cy="212.3" r="1.2" fill="#1a1ad8"/>
<circle cx="325.6" cy="175.4" r="1.2" fill="#e01818"/>
<circle cx="288.7" cy="211.1" r="1.2" fill="#1a1ad8"/>
<circle cx="325.6" cy="192.0" r="1.2" fill="#e01818"/>
<circle cx="288.7" cy="193.1" r="1.2" fill="#1a1ad8"/>
<circle cx="325.6" cy="183.3" r="1.2" fill="#e01818"/>
<circle cx="288.7" cy="222.6" r="1.2" fill="#1a1ad8"/>
<circle cx="325.6" cy="184.2" r="1.2" fill="#e01818"/>
<circle cx="288.7" cy="232.6" r="1.2" fill="#1a1ad8"/>
<circle cx="325.6" cy="182.1" r="1.2" fill="#e01818"/>
<circle cx="288.7" cy="203.5" r="1.2" fill="#1a1ad8"/>
<circle cx="325.6" cy="171.3" r="1.2" fill="#e01818"/>
<circle cx="288.7" cy="195.8" r="1.2" fill="#1a1ad8"/>
<circle cx="325.6" cy="192.0" r="1.2" fill="#e01818"/>
<circle cx="288.7" cy="213.0" r="1.2" fill="#1a1ad8"/>
<circle cx="325.6" cy="168.8" r="1.2" fill="#e01818"/>
<circle cx="288.7" cy="211.3" r="1.2" fill="#1a1ad8"/>
<circle cx="325.6" cy="185.7" r="1.2" fill="#e01818"/>
<circle cx="288.7" cy="194.2" r="1.2" fill="#1a1ad8"/>
<circle cx="325.6" cy="185.4" r="1.2" fill="#e01818"/>
<circle cx="288.7" cy="199.6" r="1.2" fill="#1a1ad8"/>
<circle cx="325.6" cy="190.9" r="1.2" fill="#e01818"/>
<circle cx="288.7" cy="210.5" r="1.2" fill="#1a1ad8"/>
<circle cx="325.6" cy="190.0" r="1.2" fill="#e01818"/>
<circle cx="288.7" cy="212.5" r="1.2" fill="#1a1ad8"/>
<circle cx="325.6" cy="189.4" r="1.2" fill="#e01818"/>
<circle cx="288.7" cy="210.3" r="1.2" fill="#1a1ad8"/>
<circle cx="325.6" cy="190.4" r="1.2" fill="#e01818"/>
<circle cx="288.7" cy="196.8" r="1.2" fill="#1a1ad8"/>
<circle cx="325.6" cy="188.1" r="1.2" fill="#e01818"/>
<circle cx="288.7" cy="192.9" r="1.2" fill="#1a1ad8"/>
<circle cx="325.6" cy="176.8" r="1.2" fill="#e01818"/>
<circle cx="288.7" cy="206.1" r="1.2" fill="#1a1ad8"/>
<circle cx="325.6" cy="179.5" r="1.2" fill="#e01818"/>
<circle cx="288.7" cy="213.8" r="1.2" fill="#1a1ad8"/>
<circle cx="325.6" cy="177.0" r="1.2" fill="#e01818"/>
<circle cx="288.7" cy="209.0" r="1.2" fill="#1a1ad8"/>
<circle cx="325.6" cy="168.6" r="1.2" fill="#e01818"/>
<circle cx="288.7" cy="227.7" r="1.2" fill="#1a1ad8"/>
<circle cx="325.6" cy="189.6" r="1.2" fill="#e01818"/>
<circle cx="288.7" cy="221.4" r="1.2" fill="#1a1ad8"/>
<circle cx="325.6" cy="169.9" r="1.2" fill="#e01818"/>
<circle cx="288.7" cy="195.1" r="1.2" fill="#1a1ad8"/>
<circle cx="325.6" cy="187.2" r="1.2" fill="#e01818"/>
<circle cx="288.7" cy="246.2" r="1.2" fill="#1a1ad8"/>
<circle cx="325.6" cy="191.6" r="1.2" fill="#e01818"/>
<circle cx="288.7" cy="197.0" r="1.2" fill="#1a1ad8"/>
<circle cx="325.6" cy="168.1" r="1.2" fill="#e01818"/>
<circle cx="288.7" cy="218.7" r="1.2" fill="#1a1ad8"/>
<circle cx="325.6" cy="182.1" r="1.2" fill="#e01818"/>
<circle cx="288.7" cy="207.8" r="1.2" fill="#1a1ad8"/>
<circle cx="325.6" cy="193.2" r="1.2" fill="#e01818"/>
<circle cx="288.7" cy="209.0" r="1.2" fill="#1a1ad8"/>
<circle cx="325.6" cy="181.4" r="1.2" fill="#e01818"/>
<circle cx="288.7" cy="202.0" r="1.2" fill="#1a1ad8"/>
<circle cx="325.6" cy="167.9" r="1.2" fill="#e01818"/>
<circle cx="288.7" cy="240.0" r="1.2" fill="#1a1ad8"/>
<circle cx="325.6" cy="179.3" r="1.2" fill="#e01818"/>
<circle cx="288.7" cy="215.0" r="1.2" fill="#1a1ad8"/>
<circle cx="325.6" cy="170.1" r="1.2" fill="#e01818"/>
<circle cx="288.7" cy="187.6" r="1.2" fill="#1a1ad8"/>
<circle cx="325.6" cy="190.0" r="1.2" fill="#e01818"/>
<circle cx="288.7" cy="190.6" r="1.2" fill="#1a1ad8"/>
<circle cx="325.6" cy="166.1" r="1.2" fill="#e01818"/>
<circle cx="288.7" cy="209.1" r="1.2" fill="#1a1ad8"/>
<circle cx="325.6" cy="191.4" r="1.2" fill="#e01818"/>
<circle cx="288.7" cy="205.8" r="1.2" fill="#1a1ad8"/>
<circle cx="325.6" cy="171.0" r="1.2" fill="#e01818"/>
<circle cx="288.7" cy="212.0" r="1.2" fill="#1a1ad8"/>
<circle cx="325.6" cy="185.1" r="1.2" fill="#e01818"/>
<circle cx="288.7" cy="215.3" r="1.2" fill="#1a1ad8"/>
<circle cx="325.6" cy="193.7" r="1.2" fill="#e01818"/>
<circle cx="288.7" cy="231.6" r="1.2" fill="#1a1ad8"/>
<circle cx="325.6" cy="174.9" r="1.2" fill="#e01818"/>
<circle cx="288.7" cy="244.1" r="1.2" fill="#1a1ad8"/>
<circle cx="325.6" cy="181.5" r="1.2" fill="#e01818"/>
<circle cx="288.7" cy="244.2" r="1.2" fill="#1a1ad8"/>
<circle cx="325.6" cy="200.0" r="1.2" fill="#e01818"/>
<circle cx="288.7" cy="210.3" r="1.2" fill="#1a1ad8"/>
<circle cx="325.6" cy="178.2" r="1.2" fill="#e01818"/>
<circle cx="288.7" cy="228.0" r="1.2" fill="#1a1ad8"/>
<circle cx="325.6" cy="183.2" r="1.2" fill="#e01818"/>
<circle cx="288.7" cy="220.8" r="1.2" fill="#1a1ad8"/>
<circle cx="325.6" cy="185.6" r="1.2" fill="#e01818"/>
<circle cx="288.7" cy="198.8" r="1.2" fill="#1a1ad8"/>
<circle cx="325.6" cy="179.7" r="1.2" fill="#e01818"/>
<circle cx="288.7" cy="232.3" r="1.2" fill="#1a1ad8"/>
<circle cx="325.6" cy="178.4" r="1.2" fill="#e01818"/>
<circle cx="288.7" cy="203.6" r="1.2" fill="#1a1ad8"/>
<circle cx="325.6" cy="191.7" r="1.2" fill="#e01818"/>
<circle cx="288.7" cy="238.8" r="1.2" fill="#1a1ad8"/>
<circle cx="325.6" cy="199.6" r="1.2" fill="#e01818"/>
<circle cx="288.7" cy="219.8" r="1.2" fill="#1a1ad8"/>
<circle cx="325.6" cy="197.1" r="1.2" fill="#e01818"/>
<circle cx="288.7" cy="195.0" r="1.2" fill="#1a1ad8"/>
<circle cx="325.6" cy="170.7" r="1.2" fill="#e01818"/>
<circle cx="288.7" cy="202.6" r="1.2" fill="#1a1ad8"/>
<circle cx="325.6" cy="183.7" r="1.2" fill="#e01818"/>
<circle cx="288.7" cy="190.9" r="1.2" fill="#1a1ad8"/>
<circle cx="325.6" cy="163.5" r="1.2" fill="#e01818"/>
<circle cx="288.7" cy="202.3" r="1.2" fill="#1a1ad8"/>
<circle cx="325.6" cy="189.0" r="1.2" fill="#e01818"/>
<circle cx="288.7" cy="187.2" r="1.2" fill="#1a1ad8"/>
<circle cx="325.6" cy="163.9" r="1.2" fill="#e01818"/>
<circle cx="288.7" cy="193.1" r="1.2" fill="#1a1ad8"/>
<circle cx="325.6" cy="165.9" r="1.2" fill="#e01818"/>
<circle cx="288.7" cy="242.6" r="1.2" fill="#1a1ad8"/>
<circle cx="325.6" cy="181.2" r="1.2" fill="#e01818"/>
<circle cx="288.7" cy="237.0" r="1.2" fill="#1a1ad8"/>
<circle cx="325.6" cy="193.9" r="1.2" fill="#e01818"/>
<circle cx="288.7" cy="202.6" r="1.2" fill="#1a1ad8"/>
<circle cx="325.6" cy="168.2" r="1.2" fill="#e01818"/>
<circle cx="288.7" cy="202.5" r="1.2" fill="#1a1ad8"/>
<circle cx="325.6" cy="185.4" r="1.2" fill="#e01818"/>
<circle cx="288.7" cy="213.9" r="1.2" fill="#1a1ad8"/>
<circle cx="325.6" cy="170.1" r="1.2" fill="#e01818"/>
<circle cx="288.7" cy="205.5" r="1.2" fill="#1a1ad8"/>
<circle cx="325.6" cy="190.4" r="1.2" fill="#e01818"/>
<circle cx="288.7" cy="201.7" r="1.2" fill="#1a1ad8"/>
<circle cx="325.6" cy="176.1" r="1.2" fill="#e01818"/>
<circle cx="288.7" cy="224.8" r="1.2" fill="#1a1ad8"/>
<circle cx="325.6" cy="183.3" r="1.2" fill="#e01818"/>
<circle cx="288.7" cy="211.5" r="1.2" fill="#1a1ad8"/>
<circle cx="325.6" cy="193.5" r="1.2" fill="#e01818"/>
<circle cx="288.7" cy="186.6" r="1.2" fill="#1a1ad8"/>
<circle cx="325.6" cy="179.9" r="1.2" fill="#e01818"/>
<circle cx="288.7" cy="186.5" r="1.2" fill="#1a1ad8"/>
<circle cx="325.6" cy="174.6" r="1.2" fill="#e01818"/>
<circle cx="288.7" cy="224.8" r="1.2" fill="#1a1ad8"/>
<circle cx="325.6" cy="186.5" r="1.2" fill="#e01818"/>
<circle cx="288.7" cy="235.9" r="1.2" fill="#1a1ad8"/>
<circle cx="325.6" cy="200.2" r="1.2" fill="#e01818"/>
<circle cx="288.7" cy="198.1" r="1.2" fill="#1a1ad8"/>
<circle cx="325.6" cy="165.4" r="1.2" fill="#e01818"/>
<circle cx="288.7" cy="211.2" r="1.2" fill="#1a1ad8"/>
<circle cx="325.6" cy="187.4" r="1.2" fill="#e01818"/>
<circle cx="288.7" cy="214.3" r="1.2" fill="#1a1ad8"/>
<circle cx="325.6" cy="179.3" r="1.2" fill="#e01818"/>
<circle cx="288.7" cy="220.4" r="1.2" fill="#1a1ad8"/>
<circle cx="325.6" cy="172.6" r="1.2" fill="#e01818"/>
<circle cx="288.7" cy="197.6" r="1.2" fill="#1a1ad8"/>
<circle cx="325.6" cy="192.9" r="1.2" fill="#e01818"/>
<circle cx="288.7" cy="246.4" r="1.2" fill="#1a1ad8"/>
<circle cx="325.6" cy="200.7" r="1.2" fill="#e01818"/>
<circle cx="288.7" cy="199.9" r="1.2" fill="#1a1ad8"/>
<circle cx="325.6" cy="177.1" r="1.2" fill="#e01818"/>
<circle cx="288.7" cy="234.2" r="1.2" fill="#1a1ad8"/>
<circle cx="325.6" cy="187.6" r="1.2" fill="#e01818"/>
<circle cx="288.7" cy="238.4" r="1.2" fill="#1a1ad8"/>
<circle cx="325.6" cy="195.1" r="1.2" fill="#e01818"/>
<circle cx="288.7" cy="198.1" r="1.2" fill="#1a1ad8"/>
<circle cx="325.6" cy="168.6" r="1.2" fill="#e01818"/>
<circle cx="288.7" cy="199.3" r="1.2" fill="#1a1ad8"/>
<circle cx="325.6" cy="186.3" r="1.2" fill="#e01818"/>
<circle cx="288.7" cy="245.8" r="1.2" fill="#1a1ad8"/>
<circle cx="325.6" cy="187.5" r="1.2" fill="#e01818"/>
<circle cx="288.7" cy="248.0" r="1.2" fill="#1a1ad8"/>
<circle cx="325.6" cy="203.4" r="1.2" fill="#e01818"/>
<circle cx="288.7" cy="240.8" r="1.2" fill="#1a1ad8"/>
<circle cx="325.6" cy="210.6" r="1.2" fill="#e01818"/>
<circle cx="288.7" cy="230.7" r="1.2" fill="#1a1ad8"/>
<circle cx="325.6" cy="219.2" r="1.2" fill="#e01818"/>
<circle cx="288.7" cy="191.9" r="1.2" fill="#1a1ad8"/>
<circle cx="325.6" cy="210.6" r="1.2" fill="#e01818"/>
<circle cx="288.7" cy="186.1" r="1.2" fill="#1a1ad8"/>
<circle cx="325.6" cy="163.1" r="1.2" fill="#e01818"/>
<circle cx="288.7" cy="187.6" r="1.2" fill="#1a1ad8"/>
<circle cx="325.6" cy="199.1" r="1.2" fill="#e01818"/>
<circle cx="288.7" cy="200.5" r="1.2" fill="#1a1ad8"/>
<circle cx="325.6" cy="166.0" r="1.2" fill="#e01818"/>
<text x="1.7" y="270.2" style="font-family:'Liberation Sans',sans-serif;font-weight:bold;font-size:7.5px" fill="#111">G</text>
<line x1="18.3" y1="276.1" x2="18.3" y2="382" stroke="#333" stroke-width="0.7"/>
<line x1="18.3" y1="382" x2="116.947" y2="382" stroke="#333" stroke-width="0.7"/>
<line x1="16.8" y1="377.2" x2="18.3" y2="377.2" stroke="#333" stroke-width="0.5"/>
<text x="15.700000000000001" y="379.1" text-anchor="end" style="font-family:'Liberation Sans',sans-serif;font-size:5.4px" fill="#444">0.0</text>
<line x1="16.8" y1="357.9" x2="18.3" y2="357.9" stroke="#333" stroke-width="0.5"/>
<text x="15.700000000000001" y="359.8" text-anchor="end" style="font-family:'Liberation Sans',sans-serif;font-size:5.4px" fill="#444">0.2</text>
<line x1="16.8" y1="338.6" x2="18.3" y2="338.6" stroke="#333" stroke-width="0.5"/>
<text x="15.700000000000001" y="340.5" text-anchor="end" style="font-family:'Liberation Sans',sans-serif;font-size:5.4px" fill="#444">0.4</text>
<line x1="16.8" y1="319.2" x2="18.3" y2="319.2" stroke="#333" stroke-width="0.5"/>
<text x="15.700000000000001" y="321.1" text-anchor="end" style="font-family:'Liberation Sans',sans-serif;font-size:5.4px" fill="#444">0.6</text>
<line x1="16.8" y1="299.9" x2="18.3" y2="299.9" stroke="#333" stroke-width="0.5"/>
<text x="15.700000000000001" y="301.8" text-anchor="end" style="font-family:'Liberation Sans',sans-serif;font-size:5.4px" fill="#444">0.8</text>
<line x1="16.8" y1="280.6" x2="18.3" y2="280.6" stroke="#333" stroke-width="0.5"/>
<text x="15.700000000000001" y="282.5" text-anchor="end" style="font-family:'Liberation Sans',sans-serif;font-size:5.4px" fill="#444">1.0</text>
<line x1="22.8" y1="382" x2="22.8" y2="383.5" stroke="#333" stroke-width="0.5"/>
<text x="22.8" y="389.6" text-anchor="middle" style="font-family:'Liberation Sans',sans-serif;font-size:5.4px" fill="#444">0</text>
<line x1="53.2" y1="382" x2="53.2" y2="383.5" stroke="#333" stroke-width="0.5"/>
<text x="53.2" y="389.6" text-anchor="middle" style="font-family:'Liberation Sans',sans-serif;font-size:5.4px" fill="#444">50</text>
<line x1="83.5" y1="382" x2="83.5" y2="383.5" stroke="#333" stroke-width="0.5"/>
<text x="83.5" y="389.6" text-anchor="middle" style="font-family:'Liberation Sans',sans-serif;font-size:5.4px" fill="#444">100</text>
<line x1="113.9" y1="382" x2="113.9" y2="383.5" stroke="#333" stroke-width="0.5"/>
<text x="113.9" y="389.6" text-anchor="middle" style="font-family:'Liberation Sans',sans-serif;font-size:5.4px" fill="#444">150</text>
<text x="66.1" y="396" text-anchor="middle" style="font-family:'Liberation Sans',sans-serif;font-size:5.4px" fill="#222">Time (months)</text>
<text transform="translate(5.5 328.9) rotate(-90)" text-anchor="middle" style="font-family:'Liberation Sans',sans-serif;font-size:5.4px" fill="#222">Survival probability</text>
<path d="M22.50,281.00 L22.96,281.00 L22.96,281.24 L25.11,281.24 L25.11,282.37 L26.18,282.37 L26.18,282.93 L26.76,282.93 L26.76,283.23 L27.16,283.23 L27.16,283.44 L28.08,283.44 L28.08,283.92 L29.28,283.92 L29.28,284.55 L30.20,284.55 L30.20,285.03 L31.99,285.03 L31.99,285.97 L32.34,285.97 L32.34,286.15 L33.00,286.15 L33.00,286.50 L33.08,286.50 L33.08,286.54 L33.58,286.54 L33.58,286.79 L35.10,286.79 L35.10,287.53 L36.60,287.53 L36.60,288.27 L36.71,288.27 L36.71,288.33 L38.58,288.33 L38.58,289.25 L41.58,289.25 L41.58,290.72 L41.94,290.72 L41.94,290.90 L42.40,290.90 L42.40,291.12 L42.76,291.12 L42.76,291.30 L43.13,291.30 L43.13,291.48 L43.67,291.48 L43.67,291.75 L45.00,291.75 L45.00,292.40 L45.18,292.40 L45.18,292.52 L47.58,292.52 L47.58,294.05 L47.81,294.05 L47.81,294.19 L48.10,294.19 L48.10,294.38 L48.16,294.38 L48.16,294.42 L50.19,294.42 L50.19,295.71 L51.23,295.71 L51.23,296.38 L52.64,296.38 L52.64,297.28 L53.85,297.28 L53.85,298.05 L54.38,298.05 L54.38,298.39 L55.47,298.39 L55.47,299.09 L56.49,299.09 L56.49,299.74 L56.90,299.74 L56.90,300.00 L57.22,300.00 L57.22,300.14 L57.83,300.14 L57.83,300.41 L58.62,300.41 L58.62,300.77 L59.42,300.77 L59.42,301.12 L60.56,301.12 L60.56,301.63 L62.10,301.63 L62.10,302.32 L63.69,302.32 L63.69,303.02 L64.31,303.02 L64.31,303.30 L65.20,303.30 L65.20,303.70 L65.52,303.70 L65.52,303.84 L67.10,303.84 L67.10,304.54 L67.74,304.54 L67.74,304.83 L68.80,304.83 L68.80,305.30 L69.39,305.30 L69.39,305.74 L69.76,305.74 L69.76,306.01 L70.65,306.01 L70.65,306.66 L76.16,306.66 L76.16,310.70 L76.18,310.70 L76.18,310.71 L76.61,310.71 L76.61,311.03 L76.82,311.03 L76.82,311.18 L77.03,311.18 L77.03,311.34 L77.30,311.34 L77.30,311.53 L77.80,311.53 L77.80,311.90 L78.72,311.90 L78.72,312.82 L79.24,312.82 L79.24,313.34 L79.71,313.34 L79.71,313.81 L81.21,313.81 L81.21,315.31 L82.30,315.31 L82.30,316.40 L94.30,316.40 L95.80,316.40 L95.80,319.40 L113.70,319.40" fill="none" stroke="#27488a" stroke-width="1.05" stroke-linejoin="miter"/>
<line x1="24.0" y1="280.2" x2="24.0" y2="282.2" stroke="#27488a" stroke-width="0.6"/>
<line x1="26.5" y1="281.9" x2="26.5" y2="283.9" stroke="#27488a" stroke-width="0.6"/>
<line x1="28.7" y1="282.9" x2="28.7" y2="284.9" stroke="#27488a" stroke-width="0.6"/>
<line x1="29.7" y1="283.6" x2="29.7" y2="285.6" stroke="#27488a" stroke-width="0.6"/>
<line x1="35.8" y1="286.5" x2="35.8" y2="288.5" stroke="#27488a" stroke-width="0.6"/>
<line x1="37.6" y1="287.3" x2="37.6" y2="289.3" stroke="#27488a" stroke-width="0.6"/>
<line x1="57.1" y1="299.0" x2="57.1" y2="301.0" stroke="#27488a" stroke-width="0.6"/>
<line x1="59.0" y1="299.8" x2="59.0" y2="301.8" stroke="#27488a" stroke-width="0.6"/>
<line x1="60.0" y1="300.1" x2="60.0" y2="302.1" stroke="#27488a" stroke-width="0.6"/>
<line x1="61.3" y1="300.6" x2="61.3" y2="302.6" stroke="#27488a" stroke-width="0.6"/>
<line x1="66.3" y1="302.8" x2="66.3" y2="304.8" stroke="#27488a" stroke-width="0.6"/>
<line x1="69.1" y1="304.3" x2="69.1" y2="306.3" stroke="#27488a" stroke-width="0.6"/>
<line x1="69.6" y1="304.7" x2="69.6" y2="306.7" stroke="#27488a" stroke-width="0.6"/>
<line x1="77.2" y1="310.3" x2="77.2" y2="312.3" stroke="#27488a" stroke-width="0.6"/>
<line x1="77.5" y1="310.5" x2="77.5" y2="312.5" stroke="#27488a" stroke-width="0.6"/>
<line x1="78.3" y1="310.9" x2="78.3" y2="312.9" stroke="#27488a" stroke-width="0.6"/>
<line x1="85.3" y1="315.4" x2="85.3" y2="317.4" stroke="#27488a" stroke-width="0.6"/>
<line x1="88.3" y1="315.4" x2="88.3" y2="317.4" stroke="#27488a" stroke-width="0.6"/>
<line x1="91.3" y1="315.4" x2="91.3" y2="317.4" stroke="#27488a" stroke-width="0.6"/>
<line x1="98.4" y1="318.4" x2="98.4" y2="320.4" stroke="#27488a" stroke-width="0.6"/>
<line x1="100.9" y1="318.4" x2="100.9" y2="320.4" stroke="#27488a" stroke-width="0.6"/>
<line x1="103.5" y1="318.4" x2="103.5" y2="320.4" stroke="#27488a" stroke-width="0.6"/>
<line x1="106.0" y1="318.4" x2="106.0" y2="320.4" stroke="#27488a" stroke-width="0.6"/>
<line x1="108.6" y1="318.4" x2="108.6" y2="320.4" stroke="#27488a" stroke-width="0.6"/>
<line x1="111.1" y1="318.4" x2="111.1" y2="320.4" stroke="#27488a" stroke-width="0.6"/>
<path d="M22.50,281.00 L24.77,281.00 L24.77,285.23 L25.28,285.23 L25.28,286.19 L26.33,286.19 L26.33,288.15 L26.84,288.15 L26.84,289.10 L27.00,289.10 L27.00,289.40 L27.01,289.40 L27.01,289.42 L27.82,289.42 L27.82,290.49 L28.53,290.49 L28.53,291.44 L28.82,291.44 L28.82,291.82 L28.95,291.82 L28.95,292.00 L31.84,292.00 L31.84,295.85 L33.34,295.85 L33.34,297.86 L34.38,297.86 L34.38,299.24 L34.76,299.24 L34.76,299.75 L36.00,299.75 L36.00,301.40 L36.73,301.40 L36.73,302.25 L36.99,302.25 L36.99,302.55 L37.93,302.55 L37.93,303.65 L38.35,303.65 L38.35,304.14 L38.55,304.14 L38.55,304.38 L40.48,304.38 L40.48,306.63 L41.73,306.63 L41.73,308.08 L42.30,308.08 L42.30,308.74 L44.49,308.74 L44.49,311.31 L45.00,311.31 L45.00,311.90 L45.22,311.90 L45.22,312.16 L46.83,312.16 L46.83,314.04 L47.08,314.04 L47.08,314.33 L47.34,314.33 L47.34,314.64 L48.38,314.64 L48.38,315.84 L49.46,315.84 L49.46,317.11 L52.87,317.11 L52.87,321.09 L53.02,321.09 L53.02,321.27 L53.90,321.27 L53.90,322.30 L54.66,322.30 L54.66,323.57 L55.87,323.57 L55.87,325.59 L56.88,325.59 L56.88,327.27 L57.24,327.27 L57.24,327.86 L58.40,327.86 L58.40,329.80 L60.01,329.80 L60.01,331.19 L60.02,331.19 L60.02,331.20 L60.39,331.20 L60.39,331.52 L60.87,331.52 L60.87,331.94 L60.97,331.94 L60.97,332.03 L61.54,332.03 L61.54,332.51 L61.80,332.51 L61.80,332.74 L63.83,332.74 L63.83,334.50 L65.71,334.50 L65.71,336.13 L67.17,336.13 L67.17,337.39 L68.80,337.39 L68.80,338.80 L69.44,338.80 L69.44,339.28 L69.98,339.28 L69.98,339.68 L71.41,339.68 L71.41,340.76 L72.63,340.76 L72.63,341.67 L73.20,341.67 L73.20,342.10 L74.80,342.10 L74.80,343.30 L95.80,343.30 L95.80,353.80 L104.70,353.80" fill="none" stroke="#e2192b" stroke-width="1.05" stroke-linejoin="miter"/>
<line x1="23.6" y1="280.0" x2="23.6" y2="282.0" stroke="#e2192b" stroke-width="0.6"/>
<line x1="28.2" y1="289.5" x2="28.2" y2="291.5" stroke="#e2192b" stroke-width="0.6"/>
<line x1="32.6" y1="294.9" x2="32.6" y2="296.9" stroke="#e2192b" stroke-width="0.6"/>
<line x1="43.4" y1="307.7" x2="43.4" y2="309.7" stroke="#e2192b" stroke-width="0.6"/>
<line x1="52.9" y1="320.1" x2="52.9" y2="322.1" stroke="#e2192b" stroke-width="0.6"/>
<line x1="56.4" y1="324.6" x2="56.4" y2="326.6" stroke="#e2192b" stroke-width="0.6"/>
<line x1="59.2" y1="328.8" x2="59.2" y2="330.8" stroke="#e2192b" stroke-width="0.6"/>
<line x1="60.2" y1="330.2" x2="60.2" y2="332.2" stroke="#e2192b" stroke-width="0.6"/>
<line x1="61.3" y1="331.0" x2="61.3" y2="333.0" stroke="#e2192b" stroke-width="0.6"/>
<line x1="62.8" y1="331.7" x2="62.8" y2="333.7" stroke="#e2192b" stroke-width="0.6"/>
<line x1="70.7" y1="338.7" x2="70.7" y2="340.7" stroke="#e2192b" stroke-width="0.6"/>
<line x1="77.4" y1="342.3" x2="77.4" y2="344.3" stroke="#e2192b" stroke-width="0.6"/>
<line x1="80.0" y1="342.3" x2="80.0" y2="344.3" stroke="#e2192b" stroke-width="0.6"/>
<line x1="82.7" y1="342.3" x2="82.7" y2="344.3" stroke="#e2192b" stroke-width="0.6"/>
<line x1="85.3" y1="342.3" x2="85.3" y2="344.3" stroke="#e2192b" stroke-width="0.6"/>
<line x1="87.9" y1="342.3" x2="87.9" y2="344.3" stroke="#e2192b" stroke-width="0.6"/>
<line x1="90.5" y1="342.3" x2="90.5" y2="344.3" stroke="#e2192b" stroke-width="0.6"/>
<line x1="93.2" y1="342.3" x2="93.2" y2="344.3" stroke="#e2192b" stroke-width="0.6"/>
<line x1="98.8" y1="352.8" x2="98.8" y2="354.8" stroke="#e2192b" stroke-width="0.6"/>
<line x1="101.7" y1="352.8" x2="101.7" y2="354.8" stroke="#e2192b" stroke-width="0.6"/>
<text x="79.3" y="282.1" style="font-family:'Liberation Sans',sans-serif;font-size:4.7px" fill="#222">hsa−miR−21−5p</text>
<line x1="81.3" y1="286.6" x2="85.6" y2="286.6" stroke="#2a4d8f" stroke-width="0.8"/>
<text x="87.3" y="288.1" style="font-family:'Liberation Sans',sans-serif;font-size:4.7px" fill="#222">Low</text>
<line x1="81.3" y1="291.20000000000005" x2="85.6" y2="291.20000000000005" stroke="#e31a2a" stroke-width="0.8"/>
<text x="87.3" y="292.70000000000005" style="font-family:'Liberation Sans',sans-serif;font-size:4.7px" fill="#222">High</text>
<text x="23.3" y="363.0" style="font-family:'Liberation Sans',sans-serif;font-size:5.0px" fill="#222">Overall Survival</text>
<text x="23.3" y="369.6" style="font-family:'Liberation Sans',sans-serif;font-size:5.0px" fill="#222">HR = 2.84 (2.06−3.91)</text>
<text x="23.3" y="376.2" style="font-family:'Liberation Sans',sans-serif;font-size:5.0px" fill="#222">P &lt; 0.001</text>
<text x="118.3" y="270.2" style="font-family:'Liberation Sans',sans-serif;font-weight:bold;font-size:7.5px" fill="#111">H</text>
<line x1="135" y1="277.2" x2="135" y2="382.2" stroke="#333" stroke-width="0.7"/>
<line x1="135" y1="382.2" x2="233.433" y2="382.2" stroke="#333" stroke-width="0.7"/>
<line x1="133.5" y1="377.3" x2="135" y2="377.3" stroke="#333" stroke-width="0.5"/>
<text x="132.4" y="379.2" text-anchor="end" style="font-family:'Liberation Sans',sans-serif;font-size:5.4px" fill="#444">0.0</text>
<line x1="133.5" y1="358.2" x2="135" y2="358.2" stroke="#333" stroke-width="0.5"/>
<text x="132.4" y="360.1" text-anchor="end" style="font-family:'Liberation Sans',sans-serif;font-size:5.4px" fill="#444">0.2</text>
<line x1="133.5" y1="339.1" x2="135" y2="339.1" stroke="#333" stroke-width="0.5"/>
<text x="132.4" y="341.0" text-anchor="end" style="font-family:'Liberation Sans',sans-serif;font-size:5.4px" fill="#444">0.4</text>
<line x1="133.5" y1="319.9" x2="135" y2="319.9" stroke="#333" stroke-width="0.5"/>
<text x="132.4" y="321.8" text-anchor="end" style="font-family:'Liberation Sans',sans-serif;font-size:5.4px" fill="#444">0.6</text>
<line x1="133.5" y1="300.8" x2="135" y2="300.8" stroke="#333" stroke-width="0.5"/>
<text x="132.4" y="302.7" text-anchor="end" style="font-family:'Liberation Sans',sans-serif;font-size:5.4px" fill="#444">0.8</text>
<line x1="133.5" y1="281.7" x2="135" y2="281.7" stroke="#333" stroke-width="0.5"/>
<text x="132.4" y="283.6" text-anchor="end" style="font-family:'Liberation Sans',sans-serif;font-size:5.4px" fill="#444">1.0</text>
<line x1="139.1" y1="382.2" x2="139.1" y2="383.7" stroke="#333" stroke-width="0.5"/>
<text x="139.1" y="389.8" text-anchor="middle" style="font-family:'Liberation Sans',sans-serif;font-size:5.4px" fill="#444">0</text>
<line x1="169.5" y1="382.2" x2="169.5" y2="383.7" stroke="#333" stroke-width="0.5"/>
<text x="169.5" y="389.8" text-anchor="middle" style="font-family:'Liberation Sans',sans-serif;font-size:5.4px" fill="#444">50</text>
<line x1="200.0" y1="382.2" x2="200.0" y2="383.7" stroke="#333" stroke-width="0.5"/>
<text x="200.0" y="389.8" text-anchor="middle" style="font-family:'Liberation Sans',sans-serif;font-size:5.4px" fill="#444">100</text>
<line x1="230.4" y1="382.2" x2="230.4" y2="383.7" stroke="#333" stroke-width="0.5"/>
<text x="230.4" y="389.8" text-anchor="middle" style="font-family:'Liberation Sans',sans-serif;font-size:5.4px" fill="#444">150</text>
<text x="182.7" y="396.2" text-anchor="middle" style="font-family:'Liberation Sans',sans-serif;font-size:5.4px" fill="#222">Time (months)</text>
<text transform="translate(122.2 329.5) rotate(-90)" text-anchor="middle" style="font-family:'Liberation Sans',sans-serif;font-size:5.4px" fill="#222">Survival probability</text>
<path d="M139.50,281.00 L140.56,281.00 L140.56,281.57 L142.54,281.57 L142.54,282.62 L142.97,282.62 L142.97,282.85 L143.25,282.85 L143.25,283.00 L144.03,283.00 L144.03,283.41 L144.24,283.41 L144.24,283.53 L145.06,283.53 L145.06,283.96 L147.00,283.96 L147.00,285.00 L147.88,285.00 L147.88,285.34 L149.82,285.34 L149.82,286.10 L151.09,286.10 L151.09,286.59 L152.65,286.59 L152.65,287.20 L152.77,287.20 L152.77,287.25 L153.12,287.25 L153.12,287.38 L153.30,287.38 L153.30,287.45 L153.97,287.45 L153.97,287.71 L154.67,287.71 L154.67,287.98 L156.00,287.98 L156.00,288.50 L156.45,288.50 L156.45,288.60 L157.91,288.60 L157.91,288.90 L158.18,288.90 L158.18,288.96 L160.63,288.96 L160.63,289.47 L161.83,289.47 L161.83,289.72 L162.47,289.72 L162.47,289.86 L163.79,289.86 L163.79,290.14 L165.26,290.14 L165.26,290.45 L165.30,290.45 L165.30,290.45 L167.07,290.45 L167.07,290.83 L167.19,290.83 L167.19,290.85 L167.60,290.85 L167.60,290.94 L167.90,290.94 L167.90,291.00 L168.10,291.00 L168.10,291.03 L168.75,291.03 L168.75,291.13 L169.74,291.13 L169.74,291.28 L171.27,291.28 L171.27,291.52 L171.88,291.52 L171.88,291.61 L172.02,291.61 L172.02,291.63 L173.18,291.63 L173.18,291.81 L173.23,291.81 L173.23,291.82 L173.79,291.82 L173.79,291.90 L173.90,291.90 L173.90,291.92 L174.18,291.92 L174.18,291.96 L174.21,291.96 L174.21,291.97 L178.37,291.97 L178.37,292.61 L179.34,292.61 L179.34,292.75 L182.67,292.75 L182.67,293.26 L182.90,293.26 L182.90,293.30 L184.01,293.30 L184.01,293.56 L185.52,293.56 L185.52,293.92 L187.07,293.92 L187.07,294.28 L187.78,294.28 L187.78,294.45 L188.59,294.45 L188.59,294.64 L190.16,294.64 L190.16,295.01 L190.19,295.01 L190.19,295.02 L190.32,295.02 L190.32,295.05 L191.80,295.05 L191.80,295.40 L192.01,295.40 L192.01,295.42 L192.07,295.42 L192.07,295.42 L192.83,295.42 L192.83,295.49 L194.33,295.49 L194.33,295.61 L196.21,295.61 L196.21,295.77 L196.86,295.77 L196.86,295.82 L197.23,295.82 L197.23,295.85 L198.32,295.85 L198.32,295.94 L199.51,295.94 L199.51,296.04 L200.43,296.04 L200.43,296.12 L203.20,296.12 L203.20,296.35 L203.27,296.35 L203.27,296.36 L203.67,296.36 L203.67,296.39 L205.91,296.39 L205.91,296.58 L206.70,296.58 L206.70,296.64 L206.76,296.64 L206.76,296.65 L207.18,296.65 L207.18,296.68 L208.10,296.68 L208.10,296.76 L208.52,296.76 L208.52,296.79 L209.80,296.79 L209.80,296.90 L211.30,296.90 L211.30,301.40 L230.70,301.40" fill="none" stroke="#27488a" stroke-width="1.05" stroke-linejoin="miter"/>
<line x1="157.2" y1="287.6" x2="157.2" y2="289.6" stroke="#27488a" stroke-width="0.6"/>
<line x1="173.2" y1="290.8" x2="173.2" y2="292.8" stroke="#27488a" stroke-width="0.6"/>
<line x1="190.2" y1="294.0" x2="190.2" y2="296.0" stroke="#27488a" stroke-width="0.6"/>
<line x1="190.3" y1="294.0" x2="190.3" y2="296.0" stroke="#27488a" stroke-width="0.6"/>
<line x1="193.6" y1="294.5" x2="193.6" y2="296.5" stroke="#27488a" stroke-width="0.6"/>
<line x1="195.3" y1="294.6" x2="195.3" y2="296.6" stroke="#27488a" stroke-width="0.6"/>
<line x1="198.9" y1="294.9" x2="198.9" y2="296.9" stroke="#27488a" stroke-width="0.6"/>
<line x1="203.2" y1="295.3" x2="203.2" y2="297.3" stroke="#27488a" stroke-width="0.6"/>
<line x1="209.2" y1="295.8" x2="209.2" y2="297.8" stroke="#27488a" stroke-width="0.6"/>
<line x1="214.1" y1="300.4" x2="214.1" y2="302.4" stroke="#27488a" stroke-width="0.6"/>
<line x1="216.8" y1="300.4" x2="216.8" y2="302.4" stroke="#27488a" stroke-width="0.6"/>
<line x1="219.6" y1="300.4" x2="219.6" y2="302.4" stroke="#27488a" stroke-width="0.6"/>
<line x1="222.4" y1="300.4" x2="222.4" y2="302.4" stroke="#27488a" stroke-width="0.6"/>
<line x1="225.2" y1="300.4" x2="225.2" y2="302.4" stroke="#27488a" stroke-width="0.6"/>
<line x1="227.9" y1="300.4" x2="227.9" y2="302.4" stroke="#27488a" stroke-width="0.6"/>
<path d="M139.50,281.00 L142.13,281.00 L142.13,285.34 L142.68,285.34 L142.68,286.25 L142.83,286.25 L142.83,286.50 L143.95,286.50 L143.95,288.34 L144.80,288.34 L144.80,289.74 L145.50,289.74 L145.50,290.90 L145.55,290.90 L145.55,290.96 L146.57,290.96 L146.57,292.20 L149.14,292.20 L149.14,295.32 L149.19,295.32 L149.19,295.38 L149.49,295.38 L149.49,295.76 L151.72,295.76 L151.72,298.47 L151.89,298.47 L151.89,298.67 L152.90,298.67 L152.90,299.90 L153.16,299.90 L153.16,300.11 L155.87,300.11 L155.87,302.38 L157.50,302.38 L157.50,303.73 L158.39,303.73 L158.39,304.47 L158.63,304.47 L158.63,304.67 L158.63,304.67 L158.63,304.68 L159.04,304.68 L159.04,305.02 L161.28,305.02 L161.28,306.89 L161.74,306.89 L161.74,307.26 L161.90,307.26 L161.90,307.40 L163.80,307.40 L163.80,309.30 L164.54,309.30 L164.54,310.04 L165.53,310.04 L165.53,311.03 L165.70,311.03 L165.70,311.20 L165.82,311.20 L165.82,311.32 L166.89,311.32 L166.89,312.39 L168.84,312.39 L168.84,314.34 L169.34,314.34 L169.34,314.84 L169.35,314.84 L169.35,314.85 L170.90,314.85 L170.90,316.40 L170.96,316.40 L170.96,316.45 L171.26,316.45 L171.26,316.70 L171.35,316.70 L171.35,316.77 L173.60,316.77 L173.60,318.62 L175.81,318.62 L175.81,320.44 L176.61,320.44 L176.61,321.10 L177.40,321.10 L177.40,321.75 L177.96,321.75 L177.96,322.20 L178.87,322.20 L178.87,322.95 L179.90,322.95 L179.90,323.80 L181.15,323.80 L181.15,324.95 L182.60,324.95 L182.60,326.27 L183.42,326.27 L183.42,327.02 L183.84,327.02 L183.84,327.40 L183.92,327.40 L183.92,327.48 L185.80,327.48 L185.80,329.20 L221.70,329.20" fill="none" stroke="#e2192b" stroke-width="1.05" stroke-linejoin="miter"/>
<line x1="142.8" y1="285.3" x2="142.8" y2="287.3" stroke="#e2192b" stroke-width="0.6"/>
<line x1="144.4" y1="287.3" x2="144.4" y2="289.3" stroke="#e2192b" stroke-width="0.6"/>
<line x1="152.4" y1="297.7" x2="152.4" y2="299.7" stroke="#e2192b" stroke-width="0.6"/>
<line x1="156.7" y1="301.4" x2="156.7" y2="303.4" stroke="#e2192b" stroke-width="0.6"/>
<line x1="170.9" y1="315.4" x2="170.9" y2="317.4" stroke="#e2192b" stroke-width="0.6"/>
<line x1="181.9" y1="323.9" x2="181.9" y2="325.9" stroke="#e2192b" stroke-width="0.6"/>
<line x1="183.0" y1="325.3" x2="183.0" y2="327.3" stroke="#e2192b" stroke-width="0.6"/>
<line x1="183.6" y1="326.0" x2="183.6" y2="328.0" stroke="#e2192b" stroke-width="0.6"/>
<line x1="188.4" y1="328.2" x2="188.4" y2="330.2" stroke="#e2192b" stroke-width="0.6"/>
<line x1="190.9" y1="328.2" x2="190.9" y2="330.2" stroke="#e2192b" stroke-width="0.6"/>
<line x1="193.5" y1="328.2" x2="193.5" y2="330.2" stroke="#e2192b" stroke-width="0.6"/>
<line x1="196.1" y1="328.2" x2="196.1" y2="330.2" stroke="#e2192b" stroke-width="0.6"/>
<line x1="198.6" y1="328.2" x2="198.6" y2="330.2" stroke="#e2192b" stroke-width="0.6"/>
<line x1="201.2" y1="328.2" x2="201.2" y2="330.2" stroke="#e2192b" stroke-width="0.6"/>
<line x1="203.8" y1="328.2" x2="203.8" y2="330.2" stroke="#e2192b" stroke-width="0.6"/>
<line x1="206.3" y1="328.2" x2="206.3" y2="330.2" stroke="#e2192b" stroke-width="0.6"/>
<line x1="208.9" y1="328.2" x2="208.9" y2="330.2" stroke="#e2192b" stroke-width="0.6"/>
<line x1="211.4" y1="328.2" x2="211.4" y2="330.2" stroke="#e2192b" stroke-width="0.6"/>
<line x1="214.0" y1="328.2" x2="214.0" y2="330.2" stroke="#e2192b" stroke-width="0.6"/>
<line x1="216.6" y1="328.2" x2="216.6" y2="330.2" stroke="#e2192b" stroke-width="0.6"/>
<line x1="219.1" y1="328.2" x2="219.1" y2="330.2" stroke="#e2192b" stroke-width="0.6"/>
<text x="194.8" y="282.1" style="font-family:'Liberation Sans',sans-serif;font-size:4.7px" fill="#222">hsa−miR−21−5p</text>
<line x1="196.8" y1="286.6" x2="201.10000000000002" y2="286.6" stroke="#2a4d8f" stroke-width="0.8"/>
<text x="202.8" y="288.1" style="font-family:'Liberation Sans',sans-serif;font-size:4.7px" fill="#222">Low</text>
<line x1="196.8" y1="291.20000000000005" x2="201.10000000000002" y2="291.20000000000005" stroke="#e31a2a" stroke-width="0.8"/>
<text x="202.8" y="292.70000000000005" style="font-family:'Liberation Sans',sans-serif;font-size:4.7px" fill="#222">High</text>
<text x="139.6" y="363.0" style="font-family:'Liberation Sans',sans-serif;font-size:5.0px" fill="#222">Disease Specific Survival</text>
<text x="139.6" y="369.6" style="font-family:'Liberation Sans',sans-serif;font-size:5.0px" fill="#222">HR = 3.78 (2.44−5.80)</text>
<text x="139.6" y="376.2" style="font-family:'Liberation Sans',sans-serif;font-size:5.0px" fill="#222">P &lt; 0.001</text>
<text x="246.2" y="270.2" style="font-family:'Liberation Sans',sans-serif;font-weight:bold;font-size:7.5px" fill="#111">I</text>
<line x1="251.7" y1="278.0" x2="251.7" y2="383" stroke="#333" stroke-width="0.7"/>
<line x1="251.7" y1="383" x2="350" y2="383" stroke="#333" stroke-width="0.7"/>
<line x1="250.2" y1="378.8" x2="251.7" y2="378.8" stroke="#333" stroke-width="0.5"/>
<text x="249.1" y="380.7" text-anchor="end" style="font-family:'Liberation Sans',sans-serif;font-size:5.4px" fill="#444">0.0</text>
<line x1="250.2" y1="359.5" x2="251.7" y2="359.5" stroke="#333" stroke-width="0.5"/>
<text x="249.1" y="361.4" text-anchor="end" style="font-family:'Liberation Sans',sans-serif;font-size:5.4px" fill="#444">0.2</text>
<line x1="250.2" y1="340.3" x2="251.7" y2="340.3" stroke="#333" stroke-width="0.5"/>
<text x="249.1" y="342.2" text-anchor="end" style="font-family:'Liberation Sans',sans-serif;font-size:5.4px" fill="#444">0.4</text>
<line x1="250.2" y1="321.0" x2="251.7" y2="321.0" stroke="#333" stroke-width="0.5"/>
<text x="249.1" y="322.9" text-anchor="end" style="font-family:'Liberation Sans',sans-serif;font-size:5.4px" fill="#444">0.6</text>
<line x1="250.2" y1="301.8" x2="251.7" y2="301.8" stroke="#333" stroke-width="0.5"/>
<text x="249.1" y="303.7" text-anchor="end" style="font-family:'Liberation Sans',sans-serif;font-size:5.4px" fill="#444">0.8</text>
<line x1="250.2" y1="282.5" x2="251.7" y2="282.5" stroke="#333" stroke-width="0.5"/>
<text x="249.1" y="284.4" text-anchor="end" style="font-family:'Liberation Sans',sans-serif;font-size:5.4px" fill="#444">1.0</text>
<line x1="256.3" y1="383" x2="256.3" y2="384.5" stroke="#333" stroke-width="0.5"/>
<text x="256.3" y="390.6" text-anchor="middle" style="font-family:'Liberation Sans',sans-serif;font-size:5.4px" fill="#444">0</text>
<line x1="289.3" y1="383" x2="289.3" y2="384.5" stroke="#333" stroke-width="0.5"/>
<text x="289.3" y="390.6" text-anchor="middle" style="font-family:'Liberation Sans',sans-serif;font-size:5.4px" fill="#444">50</text>
<line x1="322.3" y1="383" x2="322.3" y2="384.5" stroke="#333" stroke-width="0.5"/>
<text x="322.3" y="390.6" text-anchor="middle" style="font-family:'Liberation Sans',sans-serif;font-size:5.4px" fill="#444">100</text>
<text x="300.2" y="397" text-anchor="middle" style="font-family:'Liberation Sans',sans-serif;font-size:5.4px" fill="#222">Time (months)</text>
<text transform="translate(238.89999999999998 330.6) rotate(-90)" text-anchor="middle" style="font-family:'Liberation Sans',sans-serif;font-size:5.4px" fill="#222">Survival probability</text>
<path d="M256.80,282.30 L257.87,282.30 L257.87,284.77 L258.70,284.77 L258.70,286.69 L259.70,286.69 L259.70,289.00 L260.18,289.00 L260.18,289.33 L261.97,289.33 L261.97,290.55 L262.36,290.55 L262.36,290.81 L262.50,290.81 L262.50,290.91 L263.41,290.91 L263.41,291.53 L263.49,291.53 L263.49,291.58 L265.35,291.58 L265.35,292.85 L267.92,292.85 L267.92,294.60 L268.50,294.60 L268.50,295.00 L268.56,295.00 L268.56,295.03 L268.68,295.03 L268.68,295.09 L269.70,295.09 L269.70,295.59 L270.29,295.59 L270.29,295.88 L271.00,295.88 L271.00,296.23 L273.37,296.23 L273.37,297.39 L274.11,297.39 L274.11,297.76 L275.49,297.76 L275.49,298.43 L276.11,298.43 L276.11,298.74 L276.57,298.74 L276.57,298.97 L279.57,298.97 L279.57,300.44 L280.07,300.44 L280.07,300.69 L280.30,300.69 L280.30,300.80 L280.43,300.80 L280.43,300.82 L281.29,300.82 L281.29,300.93 L283.27,300.93 L283.27,301.18 L285.69,301.18 L285.69,301.49 L287.65,301.49 L287.65,301.74 L288.60,301.74 L288.60,301.86 L288.69,301.86 L288.69,301.88 L288.84,301.88 L288.84,301.89 L290.31,301.89 L290.31,302.08 L291.21,302.08 L291.21,302.20 L291.58,302.20 L291.58,302.25 L292.00,302.25 L292.00,302.30 L293.28,302.30 L293.28,303.14 L295.20,303.14 L295.20,304.41 L295.68,304.41 L295.68,304.72 L295.86,304.72 L295.86,304.84 L297.54,304.84 L297.54,305.95 L297.68,305.95 L297.68,306.04 L297.96,306.04 L297.96,306.23 L299.02,306.23 L299.02,306.92 L300.80,306.92 L300.80,308.10 L304.96,308.10 L304.96,310.62 L305.34,310.62 L305.34,310.85 L305.68,310.85 L305.68,311.06 L306.34,311.06 L306.34,311.45 L307.10,311.45 L307.10,311.91 L309.64,311.91 L309.64,313.45 L309.65,313.45 L309.65,313.46 L309.71,313.46 L309.71,313.49 L310.87,313.49 L310.87,314.19 L312.67,314.19 L312.67,315.29 L312.96,315.29 L312.96,315.46 L313.02,315.46 L313.02,315.50 L313.86,315.50 L313.86,316.00 L313.97,316.00 L313.97,316.08 L315.17,316.08 L315.17,316.80 L315.50,316.80 L315.50,317.00 L327.20,317.00 L328.70,317.00 L328.70,321.40 L339.00,321.40 L339.00,332.20 L346.30,332.20" fill="none" stroke="#27488a" stroke-width="1.05" stroke-linejoin="miter"/>
<line x1="261.1" y1="288.3" x2="261.1" y2="290.3" stroke="#27488a" stroke-width="0.6"/>
<line x1="262.2" y1="289.5" x2="262.2" y2="291.5" stroke="#27488a" stroke-width="0.6"/>
<line x1="266.6" y1="291.9" x2="266.6" y2="293.9" stroke="#27488a" stroke-width="0.6"/>
<line x1="268.5" y1="294.0" x2="268.5" y2="296.0" stroke="#27488a" stroke-width="0.6"/>
<line x1="269.2" y1="294.1" x2="269.2" y2="296.1" stroke="#27488a" stroke-width="0.6"/>
<line x1="270.6" y1="294.9" x2="270.6" y2="296.9" stroke="#27488a" stroke-width="0.6"/>
<line x1="272.2" y1="295.2" x2="272.2" y2="297.2" stroke="#27488a" stroke-width="0.6"/>
<line x1="276.3" y1="297.7" x2="276.3" y2="299.7" stroke="#27488a" stroke-width="0.6"/>
<line x1="278.1" y1="298.0" x2="278.1" y2="300.0" stroke="#27488a" stroke-width="0.6"/>
<line x1="280.4" y1="299.8" x2="280.4" y2="301.8" stroke="#27488a" stroke-width="0.6"/>
<line x1="284.5" y1="300.2" x2="284.5" y2="302.2" stroke="#27488a" stroke-width="0.6"/>
<line x1="288.6" y1="300.9" x2="288.6" y2="302.9" stroke="#27488a" stroke-width="0.6"/>
<line x1="290.8" y1="301.1" x2="290.8" y2="303.1" stroke="#27488a" stroke-width="0.6"/>
<line x1="297.8" y1="305.0" x2="297.8" y2="307.0" stroke="#27488a" stroke-width="0.6"/>
<line x1="302.9" y1="307.1" x2="302.9" y2="309.1" stroke="#27488a" stroke-width="0.6"/>
<line x1="309.6" y1="312.5" x2="309.6" y2="314.5" stroke="#27488a" stroke-width="0.6"/>
<line x1="318.4" y1="316.0" x2="318.4" y2="318.0" stroke="#27488a" stroke-width="0.6"/>
<line x1="321.4" y1="316.0" x2="321.4" y2="318.0" stroke="#27488a" stroke-width="0.6"/>
<line x1="324.3" y1="316.0" x2="324.3" y2="318.0" stroke="#27488a" stroke-width="0.6"/>
<line x1="331.3" y1="320.4" x2="331.3" y2="322.4" stroke="#27488a" stroke-width="0.6"/>
<line x1="333.9" y1="320.4" x2="333.9" y2="322.4" stroke="#27488a" stroke-width="0.6"/>
<line x1="336.4" y1="320.4" x2="336.4" y2="322.4" stroke="#27488a" stroke-width="0.6"/>
<line x1="342.6" y1="331.2" x2="342.6" y2="333.2" stroke="#27488a" stroke-width="0.6"/>
<path d="M256.80,282.30 L257.17,282.30 L257.17,283.25 L259.24,283.25 L259.24,288.50 L260.31,288.50 L260.31,291.23 L261.20,291.23 L261.20,293.50 L262.42,293.50 L262.42,295.92 L262.70,295.92 L262.70,296.48 L263.95,296.48 L263.95,298.94 L264.78,298.94 L264.78,300.60 L265.20,300.60 L265.20,301.43 L267.10,301.43 L267.10,305.20 L268.80,305.20 L268.80,307.11 L270.58,307.11 L270.58,309.11 L270.91,309.11 L270.91,309.48 L271.33,309.48 L271.33,309.95 L271.40,309.95 L271.40,310.03 L273.56,310.03 L273.56,312.46 L273.65,312.46 L273.65,312.55 L274.40,312.55 L274.40,313.40 L274.79,313.40 L274.79,313.53 L275.33,313.53 L275.33,313.72 L275.71,313.72 L275.71,313.85 L275.77,313.85 L275.77,313.87 L277.69,313.87 L277.69,314.52 L279.97,314.52 L279.97,315.30 L281.33,315.30 L281.33,315.76 L283.17,315.76 L283.17,316.39 L283.20,316.39 L283.20,316.40 L285.44,316.40 L285.44,318.41 L285.50,318.41 L285.50,318.47 L286.95,318.47 L286.95,319.77 L289.95,319.77 L289.95,322.46 L290.06,322.46 L290.06,322.56 L290.41,322.56 L290.41,322.87 L291.53,322.87 L291.53,323.88 L291.68,323.88 L291.68,324.01 L292.00,324.01 L292.00,324.30 L292.56,324.30 L292.56,324.77 L293.06,324.77 L293.06,325.18 L294.26,325.18 L294.26,326.18 L295.50,326.18 L295.50,327.20 L296.97,327.20 L296.97,328.42 L297.26,328.42 L297.26,328.67 L300.01,328.67 L300.01,330.94 L300.44,330.94 L300.44,331.30 L300.80,331.30 L300.80,331.60 L316.90,331.60 L318.40,331.60 L318.40,339.00 L344.80,339.00" fill="none" stroke="#e2192b" stroke-width="1.05" stroke-linejoin="miter"/>
<line x1="264.4" y1="297.9" x2="264.4" y2="299.9" stroke="#e2192b" stroke-width="0.6"/>
<line x1="267.9" y1="304.2" x2="267.9" y2="306.2" stroke="#e2192b" stroke-width="0.6"/>
<line x1="269.7" y1="306.1" x2="269.7" y2="308.1" stroke="#e2192b" stroke-width="0.6"/>
<line x1="270.7" y1="308.1" x2="270.7" y2="310.1" stroke="#e2192b" stroke-width="0.6"/>
<line x1="275.7" y1="312.8" x2="275.7" y2="314.8" stroke="#e2192b" stroke-width="0.6"/>
<line x1="276.7" y1="312.9" x2="276.7" y2="314.9" stroke="#e2192b" stroke-width="0.6"/>
<line x1="284.3" y1="315.4" x2="284.3" y2="317.4" stroke="#e2192b" stroke-width="0.6"/>
<line x1="286.2" y1="317.5" x2="286.2" y2="319.5" stroke="#e2192b" stroke-width="0.6"/>
<line x1="288.5" y1="318.8" x2="288.5" y2="320.8" stroke="#e2192b" stroke-width="0.6"/>
<line x1="290.0" y1="321.5" x2="290.0" y2="323.5" stroke="#e2192b" stroke-width="0.6"/>
<line x1="297.1" y1="327.4" x2="297.1" y2="329.4" stroke="#e2192b" stroke-width="0.6"/>
<line x1="303.5" y1="330.6" x2="303.5" y2="332.6" stroke="#e2192b" stroke-width="0.6"/>
<line x1="306.2" y1="330.6" x2="306.2" y2="332.6" stroke="#e2192b" stroke-width="0.6"/>
<line x1="308.9" y1="330.6" x2="308.9" y2="332.6" stroke="#e2192b" stroke-width="0.6"/>
<line x1="311.5" y1="330.6" x2="311.5" y2="332.6" stroke="#e2192b" stroke-width="0.6"/>
<line x1="314.2" y1="330.6" x2="314.2" y2="332.6" stroke="#e2192b" stroke-width="0.6"/>
<line x1="317.6" y1="330.6" x2="317.6" y2="332.6" stroke="#e2192b" stroke-width="0.6"/>
<line x1="321.0" y1="338.0" x2="321.0" y2="340.0" stroke="#e2192b" stroke-width="0.6"/>
<line x1="323.7" y1="338.0" x2="323.7" y2="340.0" stroke="#e2192b" stroke-width="0.6"/>
<line x1="326.3" y1="338.0" x2="326.3" y2="340.0" stroke="#e2192b" stroke-width="0.6"/>
<line x1="329.0" y1="338.0" x2="329.0" y2="340.0" stroke="#e2192b" stroke-width="0.6"/>
<line x1="331.6" y1="338.0" x2="331.6" y2="340.0" stroke="#e2192b" stroke-width="0.6"/>
<line x1="334.2" y1="338.0" x2="334.2" y2="340.0" stroke="#e2192b" stroke-width="0.6"/>
<line x1="336.9" y1="338.0" x2="336.9" y2="340.0" stroke="#e2192b" stroke-width="0.6"/>
<line x1="339.5" y1="338.0" x2="339.5" y2="340.0" stroke="#e2192b" stroke-width="0.6"/>
<line x1="342.2" y1="338.0" x2="342.2" y2="340.0" stroke="#e2192b" stroke-width="0.6"/>
<text x="311" y="284.7" style="font-family:'Liberation Sans',sans-serif;font-size:4.7px" fill="#222">hsa−miR−21−5p</text>
<line x1="313" y1="289.2" x2="317.3" y2="289.2" stroke="#2a4d8f" stroke-width="0.8"/>
<text x="319" y="290.7" style="font-family:'Liberation Sans',sans-serif;font-size:4.7px" fill="#222">Low</text>
<line x1="313" y1="293.8" x2="317.3" y2="293.8" stroke="#e31a2a" stroke-width="0.8"/>
<text x="319" y="295.3" style="font-family:'Liberation Sans',sans-serif;font-size:4.7px" fill="#222">High</text>
<text x="256.8" y="365.8" style="font-family:'Liberation Sans',sans-serif;font-size:5.0px" fill="#222">Progress Free Interval</text>
<text x="256.8" y="372.4" style="font-family:'Liberation Sans',sans-serif;font-size:5.0px" fill="#222">HR = 2.03 (1.47−2.80)</text>
<text x="256.8" y="379.0" style="font-family:'Liberation Sans',sans-serif;font-size:5.0px" fill="#222">P &lt; 0.001</text>
</svg></body></html>
